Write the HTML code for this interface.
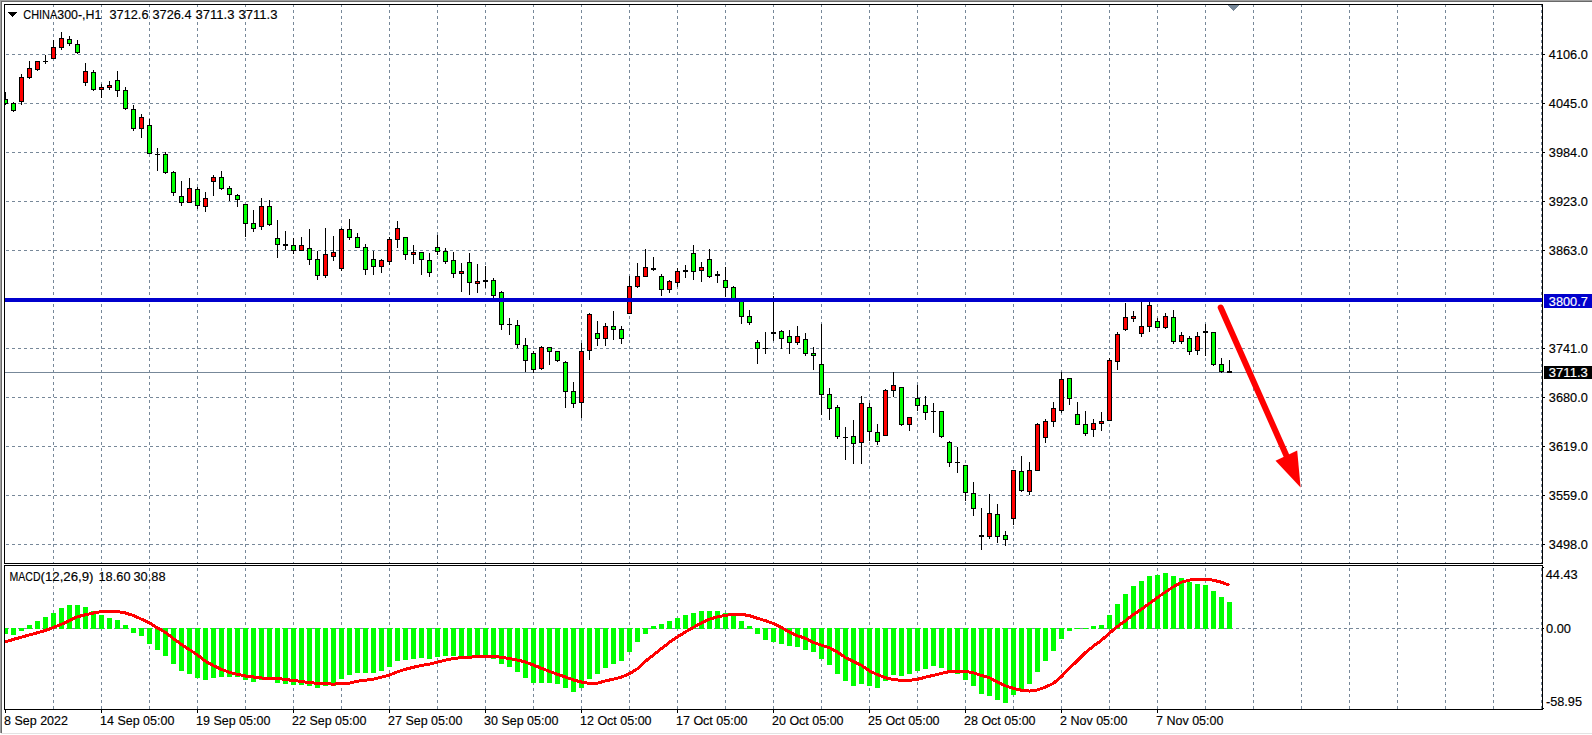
<!DOCTYPE html>
<html lang="en"><head><meta charset="utf-8"><title>CHINA300-,H1</title>
<style>html,body{margin:0;padding:0;background:#fff;overflow:hidden}svg{display:block}text{fill:#000;stroke:#000;stroke-width:0.15px;font-family:"Liberation Sans",Arial,sans-serif;font-size:12.5px}</style>
</head><body>
<svg width="1592" height="735" viewBox="0 0 1592 735">
<rect x="0" y="0" width="1592" height="735" fill="#fff"/>
<g shape-rendering="crispEdges">
<rect x="0" y="0" width="1592" height="1" fill="#a0a0a0"/>
<rect x="0" y="0" width="1" height="733" fill="#a0a0a0"/>
<rect x="1" y="1" width="1591" height="1" fill="#696969"/>
<rect x="1" y="1" width="1" height="732" fill="#696969"/>
<rect x="1" y="733" width="1591" height="1" fill="#e3e3e3"/>
<path d="M53.5 5v2M53.5 10v3M53.5 16v3M53.5 22v3M53.5 28v3M53.5 34v3M53.5 40v3M53.5 46v3M53.5 52v3M53.5 58v3M53.5 64v3M53.5 70v3M53.5 76v3M53.5 82v3M53.5 88v3M53.5 94v3M53.5 100v3M53.5 106v3M53.5 112v3M53.5 118v3M53.5 124v3M53.5 130v3M53.5 136v3M53.5 142v3M53.5 148v3M53.5 154v3M53.5 160v3M53.5 166v3M53.5 172v3M53.5 178v3M53.5 184v3M53.5 190v3M53.5 196v3M53.5 202v3M53.5 208v3M53.5 214v3M53.5 220v3M53.5 226v3M53.5 232v3M53.5 238v3M53.5 244v3M53.5 250v3M53.5 256v3M53.5 262v3M53.5 268v3M53.5 274v3M53.5 280v3M53.5 286v3M53.5 292v3M53.5 298v3M53.5 304v3M53.5 310v3M53.5 316v3M53.5 322v3M53.5 328v3M53.5 334v3M53.5 340v3M53.5 346v3M53.5 352v3M53.5 358v3M53.5 364v3M53.5 370v3M53.5 376v3M53.5 382v3M53.5 388v3M53.5 394v3M53.5 400v3M53.5 406v3M53.5 412v3M53.5 418v3M53.5 424v3M53.5 430v3M53.5 436v3M53.5 442v3M53.5 448v3M53.5 454v3M53.5 460v3M53.5 466v3M53.5 472v3M53.5 478v3M53.5 484v3M53.5 490v3M53.5 496v3M53.5 502v3M53.5 508v3M53.5 514v3M53.5 520v3M53.5 526v3M53.5 532v3M53.5 538v3M53.5 544v3M53.5 550v3M53.5 556v3M53.5 562v1M53.5 568v3M53.5 574v3M53.5 580v3M53.5 586v3M53.5 592v3M53.5 598v3M53.5 604v3M53.5 610v3M53.5 616v3M53.5 622v3M53.5 628v3M53.5 634v3M53.5 640v3M53.5 646v3M53.5 652v3M53.5 658v3M53.5 664v3M53.5 670v3M53.5 676v3M53.5 682v3M53.5 688v3M53.5 694v3M53.5 700v3M53.5 706v3M101.5 5v2M101.5 10v3M101.5 16v3M101.5 22v3M101.5 28v3M101.5 34v3M101.5 40v3M101.5 46v3M101.5 52v3M101.5 58v3M101.5 64v3M101.5 70v3M101.5 76v3M101.5 82v3M101.5 88v3M101.5 94v3M101.5 100v3M101.5 106v3M101.5 112v3M101.5 118v3M101.5 124v3M101.5 130v3M101.5 136v3M101.5 142v3M101.5 148v3M101.5 154v3M101.5 160v3M101.5 166v3M101.5 172v3M101.5 178v3M101.5 184v3M101.5 190v3M101.5 196v3M101.5 202v3M101.5 208v3M101.5 214v3M101.5 220v3M101.5 226v3M101.5 232v3M101.5 238v3M101.5 244v3M101.5 250v3M101.5 256v3M101.5 262v3M101.5 268v3M101.5 274v3M101.5 280v3M101.5 286v3M101.5 292v3M101.5 298v3M101.5 304v3M101.5 310v3M101.5 316v3M101.5 322v3M101.5 328v3M101.5 334v3M101.5 340v3M101.5 346v3M101.5 352v3M101.5 358v3M101.5 364v3M101.5 370v3M101.5 376v3M101.5 382v3M101.5 388v3M101.5 394v3M101.5 400v3M101.5 406v3M101.5 412v3M101.5 418v3M101.5 424v3M101.5 430v3M101.5 436v3M101.5 442v3M101.5 448v3M101.5 454v3M101.5 460v3M101.5 466v3M101.5 472v3M101.5 478v3M101.5 484v3M101.5 490v3M101.5 496v3M101.5 502v3M101.5 508v3M101.5 514v3M101.5 520v3M101.5 526v3M101.5 532v3M101.5 538v3M101.5 544v3M101.5 550v3M101.5 556v3M101.5 562v1M101.5 568v3M101.5 574v3M101.5 580v3M101.5 586v3M101.5 592v3M101.5 598v3M101.5 604v3M101.5 610v3M101.5 616v3M101.5 622v3M101.5 628v3M101.5 634v3M101.5 640v3M101.5 646v3M101.5 652v3M101.5 658v3M101.5 664v3M101.5 670v3M101.5 676v3M101.5 682v3M101.5 688v3M101.5 694v3M101.5 700v3M101.5 706v3M149.5 5v2M149.5 10v3M149.5 16v3M149.5 22v3M149.5 28v3M149.5 34v3M149.5 40v3M149.5 46v3M149.5 52v3M149.5 58v3M149.5 64v3M149.5 70v3M149.5 76v3M149.5 82v3M149.5 88v3M149.5 94v3M149.5 100v3M149.5 106v3M149.5 112v3M149.5 118v3M149.5 124v3M149.5 130v3M149.5 136v3M149.5 142v3M149.5 148v3M149.5 154v3M149.5 160v3M149.5 166v3M149.5 172v3M149.5 178v3M149.5 184v3M149.5 190v3M149.5 196v3M149.5 202v3M149.5 208v3M149.5 214v3M149.5 220v3M149.5 226v3M149.5 232v3M149.5 238v3M149.5 244v3M149.5 250v3M149.5 256v3M149.5 262v3M149.5 268v3M149.5 274v3M149.5 280v3M149.5 286v3M149.5 292v3M149.5 298v3M149.5 304v3M149.5 310v3M149.5 316v3M149.5 322v3M149.5 328v3M149.5 334v3M149.5 340v3M149.5 346v3M149.5 352v3M149.5 358v3M149.5 364v3M149.5 370v3M149.5 376v3M149.5 382v3M149.5 388v3M149.5 394v3M149.5 400v3M149.5 406v3M149.5 412v3M149.5 418v3M149.5 424v3M149.5 430v3M149.5 436v3M149.5 442v3M149.5 448v3M149.5 454v3M149.5 460v3M149.5 466v3M149.5 472v3M149.5 478v3M149.5 484v3M149.5 490v3M149.5 496v3M149.5 502v3M149.5 508v3M149.5 514v3M149.5 520v3M149.5 526v3M149.5 532v3M149.5 538v3M149.5 544v3M149.5 550v3M149.5 556v3M149.5 562v1M149.5 568v3M149.5 574v3M149.5 580v3M149.5 586v3M149.5 592v3M149.5 598v3M149.5 604v3M149.5 610v3M149.5 616v3M149.5 622v3M149.5 628v3M149.5 634v3M149.5 640v3M149.5 646v3M149.5 652v3M149.5 658v3M149.5 664v3M149.5 670v3M149.5 676v3M149.5 682v3M149.5 688v3M149.5 694v3M149.5 700v3M149.5 706v3M197.5 5v2M197.5 10v3M197.5 16v3M197.5 22v3M197.5 28v3M197.5 34v3M197.5 40v3M197.5 46v3M197.5 52v3M197.5 58v3M197.5 64v3M197.5 70v3M197.5 76v3M197.5 82v3M197.5 88v3M197.5 94v3M197.5 100v3M197.5 106v3M197.5 112v3M197.5 118v3M197.5 124v3M197.5 130v3M197.5 136v3M197.5 142v3M197.5 148v3M197.5 154v3M197.5 160v3M197.5 166v3M197.5 172v3M197.5 178v3M197.5 184v3M197.5 190v3M197.5 196v3M197.5 202v3M197.5 208v3M197.5 214v3M197.5 220v3M197.5 226v3M197.5 232v3M197.5 238v3M197.5 244v3M197.5 250v3M197.5 256v3M197.5 262v3M197.5 268v3M197.5 274v3M197.5 280v3M197.5 286v3M197.5 292v3M197.5 298v3M197.5 304v3M197.5 310v3M197.5 316v3M197.5 322v3M197.5 328v3M197.5 334v3M197.5 340v3M197.5 346v3M197.5 352v3M197.5 358v3M197.5 364v3M197.5 370v3M197.5 376v3M197.5 382v3M197.5 388v3M197.5 394v3M197.5 400v3M197.5 406v3M197.5 412v3M197.5 418v3M197.5 424v3M197.5 430v3M197.5 436v3M197.5 442v3M197.5 448v3M197.5 454v3M197.5 460v3M197.5 466v3M197.5 472v3M197.5 478v3M197.5 484v3M197.5 490v3M197.5 496v3M197.5 502v3M197.5 508v3M197.5 514v3M197.5 520v3M197.5 526v3M197.5 532v3M197.5 538v3M197.5 544v3M197.5 550v3M197.5 556v3M197.5 562v1M197.5 568v3M197.5 574v3M197.5 580v3M197.5 586v3M197.5 592v3M197.5 598v3M197.5 604v3M197.5 610v3M197.5 616v3M197.5 622v3M197.5 628v3M197.5 634v3M197.5 640v3M197.5 646v3M197.5 652v3M197.5 658v3M197.5 664v3M197.5 670v3M197.5 676v3M197.5 682v3M197.5 688v3M197.5 694v3M197.5 700v3M197.5 706v3M245.5 5v2M245.5 10v3M245.5 16v3M245.5 22v3M245.5 28v3M245.5 34v3M245.5 40v3M245.5 46v3M245.5 52v3M245.5 58v3M245.5 64v3M245.5 70v3M245.5 76v3M245.5 82v3M245.5 88v3M245.5 94v3M245.5 100v3M245.5 106v3M245.5 112v3M245.5 118v3M245.5 124v3M245.5 130v3M245.5 136v3M245.5 142v3M245.5 148v3M245.5 154v3M245.5 160v3M245.5 166v3M245.5 172v3M245.5 178v3M245.5 184v3M245.5 190v3M245.5 196v3M245.5 202v3M245.5 208v3M245.5 214v3M245.5 220v3M245.5 226v3M245.5 232v3M245.5 238v3M245.5 244v3M245.5 250v3M245.5 256v3M245.5 262v3M245.5 268v3M245.5 274v3M245.5 280v3M245.5 286v3M245.5 292v3M245.5 298v3M245.5 304v3M245.5 310v3M245.5 316v3M245.5 322v3M245.5 328v3M245.5 334v3M245.5 340v3M245.5 346v3M245.5 352v3M245.5 358v3M245.5 364v3M245.5 370v3M245.5 376v3M245.5 382v3M245.5 388v3M245.5 394v3M245.5 400v3M245.5 406v3M245.5 412v3M245.5 418v3M245.5 424v3M245.5 430v3M245.5 436v3M245.5 442v3M245.5 448v3M245.5 454v3M245.5 460v3M245.5 466v3M245.5 472v3M245.5 478v3M245.5 484v3M245.5 490v3M245.5 496v3M245.5 502v3M245.5 508v3M245.5 514v3M245.5 520v3M245.5 526v3M245.5 532v3M245.5 538v3M245.5 544v3M245.5 550v3M245.5 556v3M245.5 562v1M245.5 568v3M245.5 574v3M245.5 580v3M245.5 586v3M245.5 592v3M245.5 598v3M245.5 604v3M245.5 610v3M245.5 616v3M245.5 622v3M245.5 628v3M245.5 634v3M245.5 640v3M245.5 646v3M245.5 652v3M245.5 658v3M245.5 664v3M245.5 670v3M245.5 676v3M245.5 682v3M245.5 688v3M245.5 694v3M245.5 700v3M245.5 706v3M293.5 5v2M293.5 10v3M293.5 16v3M293.5 22v3M293.5 28v3M293.5 34v3M293.5 40v3M293.5 46v3M293.5 52v3M293.5 58v3M293.5 64v3M293.5 70v3M293.5 76v3M293.5 82v3M293.5 88v3M293.5 94v3M293.5 100v3M293.5 106v3M293.5 112v3M293.5 118v3M293.5 124v3M293.5 130v3M293.5 136v3M293.5 142v3M293.5 148v3M293.5 154v3M293.5 160v3M293.5 166v3M293.5 172v3M293.5 178v3M293.5 184v3M293.5 190v3M293.5 196v3M293.5 202v3M293.5 208v3M293.5 214v3M293.5 220v3M293.5 226v3M293.5 232v3M293.5 238v3M293.5 244v3M293.5 250v3M293.5 256v3M293.5 262v3M293.5 268v3M293.5 274v3M293.5 280v3M293.5 286v3M293.5 292v3M293.5 298v3M293.5 304v3M293.5 310v3M293.5 316v3M293.5 322v3M293.5 328v3M293.5 334v3M293.5 340v3M293.5 346v3M293.5 352v3M293.5 358v3M293.5 364v3M293.5 370v3M293.5 376v3M293.5 382v3M293.5 388v3M293.5 394v3M293.5 400v3M293.5 406v3M293.5 412v3M293.5 418v3M293.5 424v3M293.5 430v3M293.5 436v3M293.5 442v3M293.5 448v3M293.5 454v3M293.5 460v3M293.5 466v3M293.5 472v3M293.5 478v3M293.5 484v3M293.5 490v3M293.5 496v3M293.5 502v3M293.5 508v3M293.5 514v3M293.5 520v3M293.5 526v3M293.5 532v3M293.5 538v3M293.5 544v3M293.5 550v3M293.5 556v3M293.5 562v1M293.5 568v3M293.5 574v3M293.5 580v3M293.5 586v3M293.5 592v3M293.5 598v3M293.5 604v3M293.5 610v3M293.5 616v3M293.5 622v3M293.5 628v3M293.5 634v3M293.5 640v3M293.5 646v3M293.5 652v3M293.5 658v3M293.5 664v3M293.5 670v3M293.5 676v3M293.5 682v3M293.5 688v3M293.5 694v3M293.5 700v3M293.5 706v3M341.5 5v2M341.5 10v3M341.5 16v3M341.5 22v3M341.5 28v3M341.5 34v3M341.5 40v3M341.5 46v3M341.5 52v3M341.5 58v3M341.5 64v3M341.5 70v3M341.5 76v3M341.5 82v3M341.5 88v3M341.5 94v3M341.5 100v3M341.5 106v3M341.5 112v3M341.5 118v3M341.5 124v3M341.5 130v3M341.5 136v3M341.5 142v3M341.5 148v3M341.5 154v3M341.5 160v3M341.5 166v3M341.5 172v3M341.5 178v3M341.5 184v3M341.5 190v3M341.5 196v3M341.5 202v3M341.5 208v3M341.5 214v3M341.5 220v3M341.5 226v3M341.5 232v3M341.5 238v3M341.5 244v3M341.5 250v3M341.5 256v3M341.5 262v3M341.5 268v3M341.5 274v3M341.5 280v3M341.5 286v3M341.5 292v3M341.5 298v3M341.5 304v3M341.5 310v3M341.5 316v3M341.5 322v3M341.5 328v3M341.5 334v3M341.5 340v3M341.5 346v3M341.5 352v3M341.5 358v3M341.5 364v3M341.5 370v3M341.5 376v3M341.5 382v3M341.5 388v3M341.5 394v3M341.5 400v3M341.5 406v3M341.5 412v3M341.5 418v3M341.5 424v3M341.5 430v3M341.5 436v3M341.5 442v3M341.5 448v3M341.5 454v3M341.5 460v3M341.5 466v3M341.5 472v3M341.5 478v3M341.5 484v3M341.5 490v3M341.5 496v3M341.5 502v3M341.5 508v3M341.5 514v3M341.5 520v3M341.5 526v3M341.5 532v3M341.5 538v3M341.5 544v3M341.5 550v3M341.5 556v3M341.5 562v1M341.5 568v3M341.5 574v3M341.5 580v3M341.5 586v3M341.5 592v3M341.5 598v3M341.5 604v3M341.5 610v3M341.5 616v3M341.5 622v3M341.5 628v3M341.5 634v3M341.5 640v3M341.5 646v3M341.5 652v3M341.5 658v3M341.5 664v3M341.5 670v3M341.5 676v3M341.5 682v3M341.5 688v3M341.5 694v3M341.5 700v3M341.5 706v3M389.5 5v2M389.5 10v3M389.5 16v3M389.5 22v3M389.5 28v3M389.5 34v3M389.5 40v3M389.5 46v3M389.5 52v3M389.5 58v3M389.5 64v3M389.5 70v3M389.5 76v3M389.5 82v3M389.5 88v3M389.5 94v3M389.5 100v3M389.5 106v3M389.5 112v3M389.5 118v3M389.5 124v3M389.5 130v3M389.5 136v3M389.5 142v3M389.5 148v3M389.5 154v3M389.5 160v3M389.5 166v3M389.5 172v3M389.5 178v3M389.5 184v3M389.5 190v3M389.5 196v3M389.5 202v3M389.5 208v3M389.5 214v3M389.5 220v3M389.5 226v3M389.5 232v3M389.5 238v3M389.5 244v3M389.5 250v3M389.5 256v3M389.5 262v3M389.5 268v3M389.5 274v3M389.5 280v3M389.5 286v3M389.5 292v3M389.5 298v3M389.5 304v3M389.5 310v3M389.5 316v3M389.5 322v3M389.5 328v3M389.5 334v3M389.5 340v3M389.5 346v3M389.5 352v3M389.5 358v3M389.5 364v3M389.5 370v3M389.5 376v3M389.5 382v3M389.5 388v3M389.5 394v3M389.5 400v3M389.5 406v3M389.5 412v3M389.5 418v3M389.5 424v3M389.5 430v3M389.5 436v3M389.5 442v3M389.5 448v3M389.5 454v3M389.5 460v3M389.5 466v3M389.5 472v3M389.5 478v3M389.5 484v3M389.5 490v3M389.5 496v3M389.5 502v3M389.5 508v3M389.5 514v3M389.5 520v3M389.5 526v3M389.5 532v3M389.5 538v3M389.5 544v3M389.5 550v3M389.5 556v3M389.5 562v1M389.5 568v3M389.5 574v3M389.5 580v3M389.5 586v3M389.5 592v3M389.5 598v3M389.5 604v3M389.5 610v3M389.5 616v3M389.5 622v3M389.5 628v3M389.5 634v3M389.5 640v3M389.5 646v3M389.5 652v3M389.5 658v3M389.5 664v3M389.5 670v3M389.5 676v3M389.5 682v3M389.5 688v3M389.5 694v3M389.5 700v3M389.5 706v3M437.5 5v2M437.5 10v3M437.5 16v3M437.5 22v3M437.5 28v3M437.5 34v3M437.5 40v3M437.5 46v3M437.5 52v3M437.5 58v3M437.5 64v3M437.5 70v3M437.5 76v3M437.5 82v3M437.5 88v3M437.5 94v3M437.5 100v3M437.5 106v3M437.5 112v3M437.5 118v3M437.5 124v3M437.5 130v3M437.5 136v3M437.5 142v3M437.5 148v3M437.5 154v3M437.5 160v3M437.5 166v3M437.5 172v3M437.5 178v3M437.5 184v3M437.5 190v3M437.5 196v3M437.5 202v3M437.5 208v3M437.5 214v3M437.5 220v3M437.5 226v3M437.5 232v3M437.5 238v3M437.5 244v3M437.5 250v3M437.5 256v3M437.5 262v3M437.5 268v3M437.5 274v3M437.5 280v3M437.5 286v3M437.5 292v3M437.5 298v3M437.5 304v3M437.5 310v3M437.5 316v3M437.5 322v3M437.5 328v3M437.5 334v3M437.5 340v3M437.5 346v3M437.5 352v3M437.5 358v3M437.5 364v3M437.5 370v3M437.5 376v3M437.5 382v3M437.5 388v3M437.5 394v3M437.5 400v3M437.5 406v3M437.5 412v3M437.5 418v3M437.5 424v3M437.5 430v3M437.5 436v3M437.5 442v3M437.5 448v3M437.5 454v3M437.5 460v3M437.5 466v3M437.5 472v3M437.5 478v3M437.5 484v3M437.5 490v3M437.5 496v3M437.5 502v3M437.5 508v3M437.5 514v3M437.5 520v3M437.5 526v3M437.5 532v3M437.5 538v3M437.5 544v3M437.5 550v3M437.5 556v3M437.5 562v1M437.5 568v3M437.5 574v3M437.5 580v3M437.5 586v3M437.5 592v3M437.5 598v3M437.5 604v3M437.5 610v3M437.5 616v3M437.5 622v3M437.5 628v3M437.5 634v3M437.5 640v3M437.5 646v3M437.5 652v3M437.5 658v3M437.5 664v3M437.5 670v3M437.5 676v3M437.5 682v3M437.5 688v3M437.5 694v3M437.5 700v3M437.5 706v3M485.5 5v2M485.5 10v3M485.5 16v3M485.5 22v3M485.5 28v3M485.5 34v3M485.5 40v3M485.5 46v3M485.5 52v3M485.5 58v3M485.5 64v3M485.5 70v3M485.5 76v3M485.5 82v3M485.5 88v3M485.5 94v3M485.5 100v3M485.5 106v3M485.5 112v3M485.5 118v3M485.5 124v3M485.5 130v3M485.5 136v3M485.5 142v3M485.5 148v3M485.5 154v3M485.5 160v3M485.5 166v3M485.5 172v3M485.5 178v3M485.5 184v3M485.5 190v3M485.5 196v3M485.5 202v3M485.5 208v3M485.5 214v3M485.5 220v3M485.5 226v3M485.5 232v3M485.5 238v3M485.5 244v3M485.5 250v3M485.5 256v3M485.5 262v3M485.5 268v3M485.5 274v3M485.5 280v3M485.5 286v3M485.5 292v3M485.5 298v3M485.5 304v3M485.5 310v3M485.5 316v3M485.5 322v3M485.5 328v3M485.5 334v3M485.5 340v3M485.5 346v3M485.5 352v3M485.5 358v3M485.5 364v3M485.5 370v3M485.5 376v3M485.5 382v3M485.5 388v3M485.5 394v3M485.5 400v3M485.5 406v3M485.5 412v3M485.5 418v3M485.5 424v3M485.5 430v3M485.5 436v3M485.5 442v3M485.5 448v3M485.5 454v3M485.5 460v3M485.5 466v3M485.5 472v3M485.5 478v3M485.5 484v3M485.5 490v3M485.5 496v3M485.5 502v3M485.5 508v3M485.5 514v3M485.5 520v3M485.5 526v3M485.5 532v3M485.5 538v3M485.5 544v3M485.5 550v3M485.5 556v3M485.5 562v1M485.5 568v3M485.5 574v3M485.5 580v3M485.5 586v3M485.5 592v3M485.5 598v3M485.5 604v3M485.5 610v3M485.5 616v3M485.5 622v3M485.5 628v3M485.5 634v3M485.5 640v3M485.5 646v3M485.5 652v3M485.5 658v3M485.5 664v3M485.5 670v3M485.5 676v3M485.5 682v3M485.5 688v3M485.5 694v3M485.5 700v3M485.5 706v3M533.5 5v2M533.5 10v3M533.5 16v3M533.5 22v3M533.5 28v3M533.5 34v3M533.5 40v3M533.5 46v3M533.5 52v3M533.5 58v3M533.5 64v3M533.5 70v3M533.5 76v3M533.5 82v3M533.5 88v3M533.5 94v3M533.5 100v3M533.5 106v3M533.5 112v3M533.5 118v3M533.5 124v3M533.5 130v3M533.5 136v3M533.5 142v3M533.5 148v3M533.5 154v3M533.5 160v3M533.5 166v3M533.5 172v3M533.5 178v3M533.5 184v3M533.5 190v3M533.5 196v3M533.5 202v3M533.5 208v3M533.5 214v3M533.5 220v3M533.5 226v3M533.5 232v3M533.5 238v3M533.5 244v3M533.5 250v3M533.5 256v3M533.5 262v3M533.5 268v3M533.5 274v3M533.5 280v3M533.5 286v3M533.5 292v3M533.5 298v3M533.5 304v3M533.5 310v3M533.5 316v3M533.5 322v3M533.5 328v3M533.5 334v3M533.5 340v3M533.5 346v3M533.5 352v3M533.5 358v3M533.5 364v3M533.5 370v3M533.5 376v3M533.5 382v3M533.5 388v3M533.5 394v3M533.5 400v3M533.5 406v3M533.5 412v3M533.5 418v3M533.5 424v3M533.5 430v3M533.5 436v3M533.5 442v3M533.5 448v3M533.5 454v3M533.5 460v3M533.5 466v3M533.5 472v3M533.5 478v3M533.5 484v3M533.5 490v3M533.5 496v3M533.5 502v3M533.5 508v3M533.5 514v3M533.5 520v3M533.5 526v3M533.5 532v3M533.5 538v3M533.5 544v3M533.5 550v3M533.5 556v3M533.5 562v1M533.5 568v3M533.5 574v3M533.5 580v3M533.5 586v3M533.5 592v3M533.5 598v3M533.5 604v3M533.5 610v3M533.5 616v3M533.5 622v3M533.5 628v3M533.5 634v3M533.5 640v3M533.5 646v3M533.5 652v3M533.5 658v3M533.5 664v3M533.5 670v3M533.5 676v3M533.5 682v3M533.5 688v3M533.5 694v3M533.5 700v3M533.5 706v3M581.5 5v2M581.5 10v3M581.5 16v3M581.5 22v3M581.5 28v3M581.5 34v3M581.5 40v3M581.5 46v3M581.5 52v3M581.5 58v3M581.5 64v3M581.5 70v3M581.5 76v3M581.5 82v3M581.5 88v3M581.5 94v3M581.5 100v3M581.5 106v3M581.5 112v3M581.5 118v3M581.5 124v3M581.5 130v3M581.5 136v3M581.5 142v3M581.5 148v3M581.5 154v3M581.5 160v3M581.5 166v3M581.5 172v3M581.5 178v3M581.5 184v3M581.5 190v3M581.5 196v3M581.5 202v3M581.5 208v3M581.5 214v3M581.5 220v3M581.5 226v3M581.5 232v3M581.5 238v3M581.5 244v3M581.5 250v3M581.5 256v3M581.5 262v3M581.5 268v3M581.5 274v3M581.5 280v3M581.5 286v3M581.5 292v3M581.5 298v3M581.5 304v3M581.5 310v3M581.5 316v3M581.5 322v3M581.5 328v3M581.5 334v3M581.5 340v3M581.5 346v3M581.5 352v3M581.5 358v3M581.5 364v3M581.5 370v3M581.5 376v3M581.5 382v3M581.5 388v3M581.5 394v3M581.5 400v3M581.5 406v3M581.5 412v3M581.5 418v3M581.5 424v3M581.5 430v3M581.5 436v3M581.5 442v3M581.5 448v3M581.5 454v3M581.5 460v3M581.5 466v3M581.5 472v3M581.5 478v3M581.5 484v3M581.5 490v3M581.5 496v3M581.5 502v3M581.5 508v3M581.5 514v3M581.5 520v3M581.5 526v3M581.5 532v3M581.5 538v3M581.5 544v3M581.5 550v3M581.5 556v3M581.5 562v1M581.5 568v3M581.5 574v3M581.5 580v3M581.5 586v3M581.5 592v3M581.5 598v3M581.5 604v3M581.5 610v3M581.5 616v3M581.5 622v3M581.5 628v3M581.5 634v3M581.5 640v3M581.5 646v3M581.5 652v3M581.5 658v3M581.5 664v3M581.5 670v3M581.5 676v3M581.5 682v3M581.5 688v3M581.5 694v3M581.5 700v3M581.5 706v3M629.5 5v2M629.5 10v3M629.5 16v3M629.5 22v3M629.5 28v3M629.5 34v3M629.5 40v3M629.5 46v3M629.5 52v3M629.5 58v3M629.5 64v3M629.5 70v3M629.5 76v3M629.5 82v3M629.5 88v3M629.5 94v3M629.5 100v3M629.5 106v3M629.5 112v3M629.5 118v3M629.5 124v3M629.5 130v3M629.5 136v3M629.5 142v3M629.5 148v3M629.5 154v3M629.5 160v3M629.5 166v3M629.5 172v3M629.5 178v3M629.5 184v3M629.5 190v3M629.5 196v3M629.5 202v3M629.5 208v3M629.5 214v3M629.5 220v3M629.5 226v3M629.5 232v3M629.5 238v3M629.5 244v3M629.5 250v3M629.5 256v3M629.5 262v3M629.5 268v3M629.5 274v3M629.5 280v3M629.5 286v3M629.5 292v3M629.5 298v3M629.5 304v3M629.5 310v3M629.5 316v3M629.5 322v3M629.5 328v3M629.5 334v3M629.5 340v3M629.5 346v3M629.5 352v3M629.5 358v3M629.5 364v3M629.5 370v3M629.5 376v3M629.5 382v3M629.5 388v3M629.5 394v3M629.5 400v3M629.5 406v3M629.5 412v3M629.5 418v3M629.5 424v3M629.5 430v3M629.5 436v3M629.5 442v3M629.5 448v3M629.5 454v3M629.5 460v3M629.5 466v3M629.5 472v3M629.5 478v3M629.5 484v3M629.5 490v3M629.5 496v3M629.5 502v3M629.5 508v3M629.5 514v3M629.5 520v3M629.5 526v3M629.5 532v3M629.5 538v3M629.5 544v3M629.5 550v3M629.5 556v3M629.5 562v1M629.5 568v3M629.5 574v3M629.5 580v3M629.5 586v3M629.5 592v3M629.5 598v3M629.5 604v3M629.5 610v3M629.5 616v3M629.5 622v3M629.5 628v3M629.5 634v3M629.5 640v3M629.5 646v3M629.5 652v3M629.5 658v3M629.5 664v3M629.5 670v3M629.5 676v3M629.5 682v3M629.5 688v3M629.5 694v3M629.5 700v3M629.5 706v3M677.5 5v2M677.5 10v3M677.5 16v3M677.5 22v3M677.5 28v3M677.5 34v3M677.5 40v3M677.5 46v3M677.5 52v3M677.5 58v3M677.5 64v3M677.5 70v3M677.5 76v3M677.5 82v3M677.5 88v3M677.5 94v3M677.5 100v3M677.5 106v3M677.5 112v3M677.5 118v3M677.5 124v3M677.5 130v3M677.5 136v3M677.5 142v3M677.5 148v3M677.5 154v3M677.5 160v3M677.5 166v3M677.5 172v3M677.5 178v3M677.5 184v3M677.5 190v3M677.5 196v3M677.5 202v3M677.5 208v3M677.5 214v3M677.5 220v3M677.5 226v3M677.5 232v3M677.5 238v3M677.5 244v3M677.5 250v3M677.5 256v3M677.5 262v3M677.5 268v3M677.5 274v3M677.5 280v3M677.5 286v3M677.5 292v3M677.5 298v3M677.5 304v3M677.5 310v3M677.5 316v3M677.5 322v3M677.5 328v3M677.5 334v3M677.5 340v3M677.5 346v3M677.5 352v3M677.5 358v3M677.5 364v3M677.5 370v3M677.5 376v3M677.5 382v3M677.5 388v3M677.5 394v3M677.5 400v3M677.5 406v3M677.5 412v3M677.5 418v3M677.5 424v3M677.5 430v3M677.5 436v3M677.5 442v3M677.5 448v3M677.5 454v3M677.5 460v3M677.5 466v3M677.5 472v3M677.5 478v3M677.5 484v3M677.5 490v3M677.5 496v3M677.5 502v3M677.5 508v3M677.5 514v3M677.5 520v3M677.5 526v3M677.5 532v3M677.5 538v3M677.5 544v3M677.5 550v3M677.5 556v3M677.5 562v1M677.5 568v3M677.5 574v3M677.5 580v3M677.5 586v3M677.5 592v3M677.5 598v3M677.5 604v3M677.5 610v3M677.5 616v3M677.5 622v3M677.5 628v3M677.5 634v3M677.5 640v3M677.5 646v3M677.5 652v3M677.5 658v3M677.5 664v3M677.5 670v3M677.5 676v3M677.5 682v3M677.5 688v3M677.5 694v3M677.5 700v3M677.5 706v3M725.5 5v2M725.5 10v3M725.5 16v3M725.5 22v3M725.5 28v3M725.5 34v3M725.5 40v3M725.5 46v3M725.5 52v3M725.5 58v3M725.5 64v3M725.5 70v3M725.5 76v3M725.5 82v3M725.5 88v3M725.5 94v3M725.5 100v3M725.5 106v3M725.5 112v3M725.5 118v3M725.5 124v3M725.5 130v3M725.5 136v3M725.5 142v3M725.5 148v3M725.5 154v3M725.5 160v3M725.5 166v3M725.5 172v3M725.5 178v3M725.5 184v3M725.5 190v3M725.5 196v3M725.5 202v3M725.5 208v3M725.5 214v3M725.5 220v3M725.5 226v3M725.5 232v3M725.5 238v3M725.5 244v3M725.5 250v3M725.5 256v3M725.5 262v3M725.5 268v3M725.5 274v3M725.5 280v3M725.5 286v3M725.5 292v3M725.5 298v3M725.5 304v3M725.5 310v3M725.5 316v3M725.5 322v3M725.5 328v3M725.5 334v3M725.5 340v3M725.5 346v3M725.5 352v3M725.5 358v3M725.5 364v3M725.5 370v3M725.5 376v3M725.5 382v3M725.5 388v3M725.5 394v3M725.5 400v3M725.5 406v3M725.5 412v3M725.5 418v3M725.5 424v3M725.5 430v3M725.5 436v3M725.5 442v3M725.5 448v3M725.5 454v3M725.5 460v3M725.5 466v3M725.5 472v3M725.5 478v3M725.5 484v3M725.5 490v3M725.5 496v3M725.5 502v3M725.5 508v3M725.5 514v3M725.5 520v3M725.5 526v3M725.5 532v3M725.5 538v3M725.5 544v3M725.5 550v3M725.5 556v3M725.5 562v1M725.5 568v3M725.5 574v3M725.5 580v3M725.5 586v3M725.5 592v3M725.5 598v3M725.5 604v3M725.5 610v3M725.5 616v3M725.5 622v3M725.5 628v3M725.5 634v3M725.5 640v3M725.5 646v3M725.5 652v3M725.5 658v3M725.5 664v3M725.5 670v3M725.5 676v3M725.5 682v3M725.5 688v3M725.5 694v3M725.5 700v3M725.5 706v3M773.5 5v2M773.5 10v3M773.5 16v3M773.5 22v3M773.5 28v3M773.5 34v3M773.5 40v3M773.5 46v3M773.5 52v3M773.5 58v3M773.5 64v3M773.5 70v3M773.5 76v3M773.5 82v3M773.5 88v3M773.5 94v3M773.5 100v3M773.5 106v3M773.5 112v3M773.5 118v3M773.5 124v3M773.5 130v3M773.5 136v3M773.5 142v3M773.5 148v3M773.5 154v3M773.5 160v3M773.5 166v3M773.5 172v3M773.5 178v3M773.5 184v3M773.5 190v3M773.5 196v3M773.5 202v3M773.5 208v3M773.5 214v3M773.5 220v3M773.5 226v3M773.5 232v3M773.5 238v3M773.5 244v3M773.5 250v3M773.5 256v3M773.5 262v3M773.5 268v3M773.5 274v3M773.5 280v3M773.5 286v3M773.5 292v3M773.5 298v3M773.5 304v3M773.5 310v3M773.5 316v3M773.5 322v3M773.5 328v3M773.5 334v3M773.5 340v3M773.5 346v3M773.5 352v3M773.5 358v3M773.5 364v3M773.5 370v3M773.5 376v3M773.5 382v3M773.5 388v3M773.5 394v3M773.5 400v3M773.5 406v3M773.5 412v3M773.5 418v3M773.5 424v3M773.5 430v3M773.5 436v3M773.5 442v3M773.5 448v3M773.5 454v3M773.5 460v3M773.5 466v3M773.5 472v3M773.5 478v3M773.5 484v3M773.5 490v3M773.5 496v3M773.5 502v3M773.5 508v3M773.5 514v3M773.5 520v3M773.5 526v3M773.5 532v3M773.5 538v3M773.5 544v3M773.5 550v3M773.5 556v3M773.5 562v1M773.5 568v3M773.5 574v3M773.5 580v3M773.5 586v3M773.5 592v3M773.5 598v3M773.5 604v3M773.5 610v3M773.5 616v3M773.5 622v3M773.5 628v3M773.5 634v3M773.5 640v3M773.5 646v3M773.5 652v3M773.5 658v3M773.5 664v3M773.5 670v3M773.5 676v3M773.5 682v3M773.5 688v3M773.5 694v3M773.5 700v3M773.5 706v3M821.5 5v2M821.5 10v3M821.5 16v3M821.5 22v3M821.5 28v3M821.5 34v3M821.5 40v3M821.5 46v3M821.5 52v3M821.5 58v3M821.5 64v3M821.5 70v3M821.5 76v3M821.5 82v3M821.5 88v3M821.5 94v3M821.5 100v3M821.5 106v3M821.5 112v3M821.5 118v3M821.5 124v3M821.5 130v3M821.5 136v3M821.5 142v3M821.5 148v3M821.5 154v3M821.5 160v3M821.5 166v3M821.5 172v3M821.5 178v3M821.5 184v3M821.5 190v3M821.5 196v3M821.5 202v3M821.5 208v3M821.5 214v3M821.5 220v3M821.5 226v3M821.5 232v3M821.5 238v3M821.5 244v3M821.5 250v3M821.5 256v3M821.5 262v3M821.5 268v3M821.5 274v3M821.5 280v3M821.5 286v3M821.5 292v3M821.5 298v3M821.5 304v3M821.5 310v3M821.5 316v3M821.5 322v3M821.5 328v3M821.5 334v3M821.5 340v3M821.5 346v3M821.5 352v3M821.5 358v3M821.5 364v3M821.5 370v3M821.5 376v3M821.5 382v3M821.5 388v3M821.5 394v3M821.5 400v3M821.5 406v3M821.5 412v3M821.5 418v3M821.5 424v3M821.5 430v3M821.5 436v3M821.5 442v3M821.5 448v3M821.5 454v3M821.5 460v3M821.5 466v3M821.5 472v3M821.5 478v3M821.5 484v3M821.5 490v3M821.5 496v3M821.5 502v3M821.5 508v3M821.5 514v3M821.5 520v3M821.5 526v3M821.5 532v3M821.5 538v3M821.5 544v3M821.5 550v3M821.5 556v3M821.5 562v1M821.5 568v3M821.5 574v3M821.5 580v3M821.5 586v3M821.5 592v3M821.5 598v3M821.5 604v3M821.5 610v3M821.5 616v3M821.5 622v3M821.5 628v3M821.5 634v3M821.5 640v3M821.5 646v3M821.5 652v3M821.5 658v3M821.5 664v3M821.5 670v3M821.5 676v3M821.5 682v3M821.5 688v3M821.5 694v3M821.5 700v3M821.5 706v3M869.5 5v2M869.5 10v3M869.5 16v3M869.5 22v3M869.5 28v3M869.5 34v3M869.5 40v3M869.5 46v3M869.5 52v3M869.5 58v3M869.5 64v3M869.5 70v3M869.5 76v3M869.5 82v3M869.5 88v3M869.5 94v3M869.5 100v3M869.5 106v3M869.5 112v3M869.5 118v3M869.5 124v3M869.5 130v3M869.5 136v3M869.5 142v3M869.5 148v3M869.5 154v3M869.5 160v3M869.5 166v3M869.5 172v3M869.5 178v3M869.5 184v3M869.5 190v3M869.5 196v3M869.5 202v3M869.5 208v3M869.5 214v3M869.5 220v3M869.5 226v3M869.5 232v3M869.5 238v3M869.5 244v3M869.5 250v3M869.5 256v3M869.5 262v3M869.5 268v3M869.5 274v3M869.5 280v3M869.5 286v3M869.5 292v3M869.5 298v3M869.5 304v3M869.5 310v3M869.5 316v3M869.5 322v3M869.5 328v3M869.5 334v3M869.5 340v3M869.5 346v3M869.5 352v3M869.5 358v3M869.5 364v3M869.5 370v3M869.5 376v3M869.5 382v3M869.5 388v3M869.5 394v3M869.5 400v3M869.5 406v3M869.5 412v3M869.5 418v3M869.5 424v3M869.5 430v3M869.5 436v3M869.5 442v3M869.5 448v3M869.5 454v3M869.5 460v3M869.5 466v3M869.5 472v3M869.5 478v3M869.5 484v3M869.5 490v3M869.5 496v3M869.5 502v3M869.5 508v3M869.5 514v3M869.5 520v3M869.5 526v3M869.5 532v3M869.5 538v3M869.5 544v3M869.5 550v3M869.5 556v3M869.5 562v1M869.5 568v3M869.5 574v3M869.5 580v3M869.5 586v3M869.5 592v3M869.5 598v3M869.5 604v3M869.5 610v3M869.5 616v3M869.5 622v3M869.5 628v3M869.5 634v3M869.5 640v3M869.5 646v3M869.5 652v3M869.5 658v3M869.5 664v3M869.5 670v3M869.5 676v3M869.5 682v3M869.5 688v3M869.5 694v3M869.5 700v3M869.5 706v3M917.5 5v2M917.5 10v3M917.5 16v3M917.5 22v3M917.5 28v3M917.5 34v3M917.5 40v3M917.5 46v3M917.5 52v3M917.5 58v3M917.5 64v3M917.5 70v3M917.5 76v3M917.5 82v3M917.5 88v3M917.5 94v3M917.5 100v3M917.5 106v3M917.5 112v3M917.5 118v3M917.5 124v3M917.5 130v3M917.5 136v3M917.5 142v3M917.5 148v3M917.5 154v3M917.5 160v3M917.5 166v3M917.5 172v3M917.5 178v3M917.5 184v3M917.5 190v3M917.5 196v3M917.5 202v3M917.5 208v3M917.5 214v3M917.5 220v3M917.5 226v3M917.5 232v3M917.5 238v3M917.5 244v3M917.5 250v3M917.5 256v3M917.5 262v3M917.5 268v3M917.5 274v3M917.5 280v3M917.5 286v3M917.5 292v3M917.5 298v3M917.5 304v3M917.5 310v3M917.5 316v3M917.5 322v3M917.5 328v3M917.5 334v3M917.5 340v3M917.5 346v3M917.5 352v3M917.5 358v3M917.5 364v3M917.5 370v3M917.5 376v3M917.5 382v3M917.5 388v3M917.5 394v3M917.5 400v3M917.5 406v3M917.5 412v3M917.5 418v3M917.5 424v3M917.5 430v3M917.5 436v3M917.5 442v3M917.5 448v3M917.5 454v3M917.5 460v3M917.5 466v3M917.5 472v3M917.5 478v3M917.5 484v3M917.5 490v3M917.5 496v3M917.5 502v3M917.5 508v3M917.5 514v3M917.5 520v3M917.5 526v3M917.5 532v3M917.5 538v3M917.5 544v3M917.5 550v3M917.5 556v3M917.5 562v1M917.5 568v3M917.5 574v3M917.5 580v3M917.5 586v3M917.5 592v3M917.5 598v3M917.5 604v3M917.5 610v3M917.5 616v3M917.5 622v3M917.5 628v3M917.5 634v3M917.5 640v3M917.5 646v3M917.5 652v3M917.5 658v3M917.5 664v3M917.5 670v3M917.5 676v3M917.5 682v3M917.5 688v3M917.5 694v3M917.5 700v3M917.5 706v3M965.5 5v2M965.5 10v3M965.5 16v3M965.5 22v3M965.5 28v3M965.5 34v3M965.5 40v3M965.5 46v3M965.5 52v3M965.5 58v3M965.5 64v3M965.5 70v3M965.5 76v3M965.5 82v3M965.5 88v3M965.5 94v3M965.5 100v3M965.5 106v3M965.5 112v3M965.5 118v3M965.5 124v3M965.5 130v3M965.5 136v3M965.5 142v3M965.5 148v3M965.5 154v3M965.5 160v3M965.5 166v3M965.5 172v3M965.5 178v3M965.5 184v3M965.5 190v3M965.5 196v3M965.5 202v3M965.5 208v3M965.5 214v3M965.5 220v3M965.5 226v3M965.5 232v3M965.5 238v3M965.5 244v3M965.5 250v3M965.5 256v3M965.5 262v3M965.5 268v3M965.5 274v3M965.5 280v3M965.5 286v3M965.5 292v3M965.5 298v3M965.5 304v3M965.5 310v3M965.5 316v3M965.5 322v3M965.5 328v3M965.5 334v3M965.5 340v3M965.5 346v3M965.5 352v3M965.5 358v3M965.5 364v3M965.5 370v3M965.5 376v3M965.5 382v3M965.5 388v3M965.5 394v3M965.5 400v3M965.5 406v3M965.5 412v3M965.5 418v3M965.5 424v3M965.5 430v3M965.5 436v3M965.5 442v3M965.5 448v3M965.5 454v3M965.5 460v3M965.5 466v3M965.5 472v3M965.5 478v3M965.5 484v3M965.5 490v3M965.5 496v3M965.5 502v3M965.5 508v3M965.5 514v3M965.5 520v3M965.5 526v3M965.5 532v3M965.5 538v3M965.5 544v3M965.5 550v3M965.5 556v3M965.5 562v1M965.5 568v3M965.5 574v3M965.5 580v3M965.5 586v3M965.5 592v3M965.5 598v3M965.5 604v3M965.5 610v3M965.5 616v3M965.5 622v3M965.5 628v3M965.5 634v3M965.5 640v3M965.5 646v3M965.5 652v3M965.5 658v3M965.5 664v3M965.5 670v3M965.5 676v3M965.5 682v3M965.5 688v3M965.5 694v3M965.5 700v3M965.5 706v3M1013.5 5v2M1013.5 10v3M1013.5 16v3M1013.5 22v3M1013.5 28v3M1013.5 34v3M1013.5 40v3M1013.5 46v3M1013.5 52v3M1013.5 58v3M1013.5 64v3M1013.5 70v3M1013.5 76v3M1013.5 82v3M1013.5 88v3M1013.5 94v3M1013.5 100v3M1013.5 106v3M1013.5 112v3M1013.5 118v3M1013.5 124v3M1013.5 130v3M1013.5 136v3M1013.5 142v3M1013.5 148v3M1013.5 154v3M1013.5 160v3M1013.5 166v3M1013.5 172v3M1013.5 178v3M1013.5 184v3M1013.5 190v3M1013.5 196v3M1013.5 202v3M1013.5 208v3M1013.5 214v3M1013.5 220v3M1013.5 226v3M1013.5 232v3M1013.5 238v3M1013.5 244v3M1013.5 250v3M1013.5 256v3M1013.5 262v3M1013.5 268v3M1013.5 274v3M1013.5 280v3M1013.5 286v3M1013.5 292v3M1013.5 298v3M1013.5 304v3M1013.5 310v3M1013.5 316v3M1013.5 322v3M1013.5 328v3M1013.5 334v3M1013.5 340v3M1013.5 346v3M1013.5 352v3M1013.5 358v3M1013.5 364v3M1013.5 370v3M1013.5 376v3M1013.5 382v3M1013.5 388v3M1013.5 394v3M1013.5 400v3M1013.5 406v3M1013.5 412v3M1013.5 418v3M1013.5 424v3M1013.5 430v3M1013.5 436v3M1013.5 442v3M1013.5 448v3M1013.5 454v3M1013.5 460v3M1013.5 466v3M1013.5 472v3M1013.5 478v3M1013.5 484v3M1013.5 490v3M1013.5 496v3M1013.5 502v3M1013.5 508v3M1013.5 514v3M1013.5 520v3M1013.5 526v3M1013.5 532v3M1013.5 538v3M1013.5 544v3M1013.5 550v3M1013.5 556v3M1013.5 562v1M1013.5 568v3M1013.5 574v3M1013.5 580v3M1013.5 586v3M1013.5 592v3M1013.5 598v3M1013.5 604v3M1013.5 610v3M1013.5 616v3M1013.5 622v3M1013.5 628v3M1013.5 634v3M1013.5 640v3M1013.5 646v3M1013.5 652v3M1013.5 658v3M1013.5 664v3M1013.5 670v3M1013.5 676v3M1013.5 682v3M1013.5 688v3M1013.5 694v3M1013.5 700v3M1013.5 706v3M1061.5 5v2M1061.5 10v3M1061.5 16v3M1061.5 22v3M1061.5 28v3M1061.5 34v3M1061.5 40v3M1061.5 46v3M1061.5 52v3M1061.5 58v3M1061.5 64v3M1061.5 70v3M1061.5 76v3M1061.5 82v3M1061.5 88v3M1061.5 94v3M1061.5 100v3M1061.5 106v3M1061.5 112v3M1061.5 118v3M1061.5 124v3M1061.5 130v3M1061.5 136v3M1061.5 142v3M1061.5 148v3M1061.5 154v3M1061.5 160v3M1061.5 166v3M1061.5 172v3M1061.5 178v3M1061.5 184v3M1061.5 190v3M1061.5 196v3M1061.5 202v3M1061.5 208v3M1061.5 214v3M1061.5 220v3M1061.5 226v3M1061.5 232v3M1061.5 238v3M1061.5 244v3M1061.5 250v3M1061.5 256v3M1061.5 262v3M1061.5 268v3M1061.5 274v3M1061.5 280v3M1061.5 286v3M1061.5 292v3M1061.5 298v3M1061.5 304v3M1061.5 310v3M1061.5 316v3M1061.5 322v3M1061.5 328v3M1061.5 334v3M1061.5 340v3M1061.5 346v3M1061.5 352v3M1061.5 358v3M1061.5 364v3M1061.5 370v3M1061.5 376v3M1061.5 382v3M1061.5 388v3M1061.5 394v3M1061.5 400v3M1061.5 406v3M1061.5 412v3M1061.5 418v3M1061.5 424v3M1061.5 430v3M1061.5 436v3M1061.5 442v3M1061.5 448v3M1061.5 454v3M1061.5 460v3M1061.5 466v3M1061.5 472v3M1061.5 478v3M1061.5 484v3M1061.5 490v3M1061.5 496v3M1061.5 502v3M1061.5 508v3M1061.5 514v3M1061.5 520v3M1061.5 526v3M1061.5 532v3M1061.5 538v3M1061.5 544v3M1061.5 550v3M1061.5 556v3M1061.5 562v1M1061.5 568v3M1061.5 574v3M1061.5 580v3M1061.5 586v3M1061.5 592v3M1061.5 598v3M1061.5 604v3M1061.5 610v3M1061.5 616v3M1061.5 622v3M1061.5 628v3M1061.5 634v3M1061.5 640v3M1061.5 646v3M1061.5 652v3M1061.5 658v3M1061.5 664v3M1061.5 670v3M1061.5 676v3M1061.5 682v3M1061.5 688v3M1061.5 694v3M1061.5 700v3M1061.5 706v3M1109.5 5v2M1109.5 10v3M1109.5 16v3M1109.5 22v3M1109.5 28v3M1109.5 34v3M1109.5 40v3M1109.5 46v3M1109.5 52v3M1109.5 58v3M1109.5 64v3M1109.5 70v3M1109.5 76v3M1109.5 82v3M1109.5 88v3M1109.5 94v3M1109.5 100v3M1109.5 106v3M1109.5 112v3M1109.5 118v3M1109.5 124v3M1109.5 130v3M1109.5 136v3M1109.5 142v3M1109.5 148v3M1109.5 154v3M1109.5 160v3M1109.5 166v3M1109.5 172v3M1109.5 178v3M1109.5 184v3M1109.5 190v3M1109.5 196v3M1109.5 202v3M1109.5 208v3M1109.5 214v3M1109.5 220v3M1109.5 226v3M1109.5 232v3M1109.5 238v3M1109.5 244v3M1109.5 250v3M1109.5 256v3M1109.5 262v3M1109.5 268v3M1109.5 274v3M1109.5 280v3M1109.5 286v3M1109.5 292v3M1109.5 298v3M1109.5 304v3M1109.5 310v3M1109.5 316v3M1109.5 322v3M1109.5 328v3M1109.5 334v3M1109.5 340v3M1109.5 346v3M1109.5 352v3M1109.5 358v3M1109.5 364v3M1109.5 370v3M1109.5 376v3M1109.5 382v3M1109.5 388v3M1109.5 394v3M1109.5 400v3M1109.5 406v3M1109.5 412v3M1109.5 418v3M1109.5 424v3M1109.5 430v3M1109.5 436v3M1109.5 442v3M1109.5 448v3M1109.5 454v3M1109.5 460v3M1109.5 466v3M1109.5 472v3M1109.5 478v3M1109.5 484v3M1109.5 490v3M1109.5 496v3M1109.5 502v3M1109.5 508v3M1109.5 514v3M1109.5 520v3M1109.5 526v3M1109.5 532v3M1109.5 538v3M1109.5 544v3M1109.5 550v3M1109.5 556v3M1109.5 562v1M1109.5 568v3M1109.5 574v3M1109.5 580v3M1109.5 586v3M1109.5 592v3M1109.5 598v3M1109.5 604v3M1109.5 610v3M1109.5 616v3M1109.5 622v3M1109.5 628v3M1109.5 634v3M1109.5 640v3M1109.5 646v3M1109.5 652v3M1109.5 658v3M1109.5 664v3M1109.5 670v3M1109.5 676v3M1109.5 682v3M1109.5 688v3M1109.5 694v3M1109.5 700v3M1109.5 706v3M1157.5 5v2M1157.5 10v3M1157.5 16v3M1157.5 22v3M1157.5 28v3M1157.5 34v3M1157.5 40v3M1157.5 46v3M1157.5 52v3M1157.5 58v3M1157.5 64v3M1157.5 70v3M1157.5 76v3M1157.5 82v3M1157.5 88v3M1157.5 94v3M1157.5 100v3M1157.5 106v3M1157.5 112v3M1157.5 118v3M1157.5 124v3M1157.5 130v3M1157.5 136v3M1157.5 142v3M1157.5 148v3M1157.5 154v3M1157.5 160v3M1157.5 166v3M1157.5 172v3M1157.5 178v3M1157.5 184v3M1157.5 190v3M1157.5 196v3M1157.5 202v3M1157.5 208v3M1157.5 214v3M1157.5 220v3M1157.5 226v3M1157.5 232v3M1157.5 238v3M1157.5 244v3M1157.5 250v3M1157.5 256v3M1157.5 262v3M1157.5 268v3M1157.5 274v3M1157.5 280v3M1157.5 286v3M1157.5 292v3M1157.5 298v3M1157.5 304v3M1157.5 310v3M1157.5 316v3M1157.5 322v3M1157.5 328v3M1157.5 334v3M1157.5 340v3M1157.5 346v3M1157.5 352v3M1157.5 358v3M1157.5 364v3M1157.5 370v3M1157.5 376v3M1157.5 382v3M1157.5 388v3M1157.5 394v3M1157.5 400v3M1157.5 406v3M1157.5 412v3M1157.5 418v3M1157.5 424v3M1157.5 430v3M1157.5 436v3M1157.5 442v3M1157.5 448v3M1157.5 454v3M1157.5 460v3M1157.5 466v3M1157.5 472v3M1157.5 478v3M1157.5 484v3M1157.5 490v3M1157.5 496v3M1157.5 502v3M1157.5 508v3M1157.5 514v3M1157.5 520v3M1157.5 526v3M1157.5 532v3M1157.5 538v3M1157.5 544v3M1157.5 550v3M1157.5 556v3M1157.5 562v1M1157.5 568v3M1157.5 574v3M1157.5 580v3M1157.5 586v3M1157.5 592v3M1157.5 598v3M1157.5 604v3M1157.5 610v3M1157.5 616v3M1157.5 622v3M1157.5 628v3M1157.5 634v3M1157.5 640v3M1157.5 646v3M1157.5 652v3M1157.5 658v3M1157.5 664v3M1157.5 670v3M1157.5 676v3M1157.5 682v3M1157.5 688v3M1157.5 694v3M1157.5 700v3M1157.5 706v3M1205.5 5v2M1205.5 10v3M1205.5 16v3M1205.5 22v3M1205.5 28v3M1205.5 34v3M1205.5 40v3M1205.5 46v3M1205.5 52v3M1205.5 58v3M1205.5 64v3M1205.5 70v3M1205.5 76v3M1205.5 82v3M1205.5 88v3M1205.5 94v3M1205.5 100v3M1205.5 106v3M1205.5 112v3M1205.5 118v3M1205.5 124v3M1205.5 130v3M1205.5 136v3M1205.5 142v3M1205.5 148v3M1205.5 154v3M1205.5 160v3M1205.5 166v3M1205.5 172v3M1205.5 178v3M1205.5 184v3M1205.5 190v3M1205.5 196v3M1205.5 202v3M1205.5 208v3M1205.5 214v3M1205.5 220v3M1205.5 226v3M1205.5 232v3M1205.5 238v3M1205.5 244v3M1205.5 250v3M1205.5 256v3M1205.5 262v3M1205.5 268v3M1205.5 274v3M1205.5 280v3M1205.5 286v3M1205.5 292v3M1205.5 298v3M1205.5 304v3M1205.5 310v3M1205.5 316v3M1205.5 322v3M1205.5 328v3M1205.5 334v3M1205.5 340v3M1205.5 346v3M1205.5 352v3M1205.5 358v3M1205.5 364v3M1205.5 370v3M1205.5 376v3M1205.5 382v3M1205.5 388v3M1205.5 394v3M1205.5 400v3M1205.5 406v3M1205.5 412v3M1205.5 418v3M1205.5 424v3M1205.5 430v3M1205.5 436v3M1205.5 442v3M1205.5 448v3M1205.5 454v3M1205.5 460v3M1205.5 466v3M1205.5 472v3M1205.5 478v3M1205.5 484v3M1205.5 490v3M1205.5 496v3M1205.5 502v3M1205.5 508v3M1205.5 514v3M1205.5 520v3M1205.5 526v3M1205.5 532v3M1205.5 538v3M1205.5 544v3M1205.5 550v3M1205.5 556v3M1205.5 562v1M1205.5 568v3M1205.5 574v3M1205.5 580v3M1205.5 586v3M1205.5 592v3M1205.5 598v3M1205.5 604v3M1205.5 610v3M1205.5 616v3M1205.5 622v3M1205.5 628v3M1205.5 634v3M1205.5 640v3M1205.5 646v3M1205.5 652v3M1205.5 658v3M1205.5 664v3M1205.5 670v3M1205.5 676v3M1205.5 682v3M1205.5 688v3M1205.5 694v3M1205.5 700v3M1205.5 706v3M1253.5 5v2M1253.5 10v3M1253.5 16v3M1253.5 22v3M1253.5 28v3M1253.5 34v3M1253.5 40v3M1253.5 46v3M1253.5 52v3M1253.5 58v3M1253.5 64v3M1253.5 70v3M1253.5 76v3M1253.5 82v3M1253.5 88v3M1253.5 94v3M1253.5 100v3M1253.5 106v3M1253.5 112v3M1253.5 118v3M1253.5 124v3M1253.5 130v3M1253.5 136v3M1253.5 142v3M1253.5 148v3M1253.5 154v3M1253.5 160v3M1253.5 166v3M1253.5 172v3M1253.5 178v3M1253.5 184v3M1253.5 190v3M1253.5 196v3M1253.5 202v3M1253.5 208v3M1253.5 214v3M1253.5 220v3M1253.5 226v3M1253.5 232v3M1253.5 238v3M1253.5 244v3M1253.5 250v3M1253.5 256v3M1253.5 262v3M1253.5 268v3M1253.5 274v3M1253.5 280v3M1253.5 286v3M1253.5 292v3M1253.5 298v3M1253.5 304v3M1253.5 310v3M1253.5 316v3M1253.5 322v3M1253.5 328v3M1253.5 334v3M1253.5 340v3M1253.5 346v3M1253.5 352v3M1253.5 358v3M1253.5 364v3M1253.5 370v3M1253.5 376v3M1253.5 382v3M1253.5 388v3M1253.5 394v3M1253.5 400v3M1253.5 406v3M1253.5 412v3M1253.5 418v3M1253.5 424v3M1253.5 430v3M1253.5 436v3M1253.5 442v3M1253.5 448v3M1253.5 454v3M1253.5 460v3M1253.5 466v3M1253.5 472v3M1253.5 478v3M1253.5 484v3M1253.5 490v3M1253.5 496v3M1253.5 502v3M1253.5 508v3M1253.5 514v3M1253.5 520v3M1253.5 526v3M1253.5 532v3M1253.5 538v3M1253.5 544v3M1253.5 550v3M1253.5 556v3M1253.5 562v1M1253.5 568v3M1253.5 574v3M1253.5 580v3M1253.5 586v3M1253.5 592v3M1253.5 598v3M1253.5 604v3M1253.5 610v3M1253.5 616v3M1253.5 622v3M1253.5 628v3M1253.5 634v3M1253.5 640v3M1253.5 646v3M1253.5 652v3M1253.5 658v3M1253.5 664v3M1253.5 670v3M1253.5 676v3M1253.5 682v3M1253.5 688v3M1253.5 694v3M1253.5 700v3M1253.5 706v3M1301.5 5v2M1301.5 10v3M1301.5 16v3M1301.5 22v3M1301.5 28v3M1301.5 34v3M1301.5 40v3M1301.5 46v3M1301.5 52v3M1301.5 58v3M1301.5 64v3M1301.5 70v3M1301.5 76v3M1301.5 82v3M1301.5 88v3M1301.5 94v3M1301.5 100v3M1301.5 106v3M1301.5 112v3M1301.5 118v3M1301.5 124v3M1301.5 130v3M1301.5 136v3M1301.5 142v3M1301.5 148v3M1301.5 154v3M1301.5 160v3M1301.5 166v3M1301.5 172v3M1301.5 178v3M1301.5 184v3M1301.5 190v3M1301.5 196v3M1301.5 202v3M1301.5 208v3M1301.5 214v3M1301.5 220v3M1301.5 226v3M1301.5 232v3M1301.5 238v3M1301.5 244v3M1301.5 250v3M1301.5 256v3M1301.5 262v3M1301.5 268v3M1301.5 274v3M1301.5 280v3M1301.5 286v3M1301.5 292v3M1301.5 298v3M1301.5 304v3M1301.5 310v3M1301.5 316v3M1301.5 322v3M1301.5 328v3M1301.5 334v3M1301.5 340v3M1301.5 346v3M1301.5 352v3M1301.5 358v3M1301.5 364v3M1301.5 370v3M1301.5 376v3M1301.5 382v3M1301.5 388v3M1301.5 394v3M1301.5 400v3M1301.5 406v3M1301.5 412v3M1301.5 418v3M1301.5 424v3M1301.5 430v3M1301.5 436v3M1301.5 442v3M1301.5 448v3M1301.5 454v3M1301.5 460v3M1301.5 466v3M1301.5 472v3M1301.5 478v3M1301.5 484v3M1301.5 490v3M1301.5 496v3M1301.5 502v3M1301.5 508v3M1301.5 514v3M1301.5 520v3M1301.5 526v3M1301.5 532v3M1301.5 538v3M1301.5 544v3M1301.5 550v3M1301.5 556v3M1301.5 562v1M1301.5 568v3M1301.5 574v3M1301.5 580v3M1301.5 586v3M1301.5 592v3M1301.5 598v3M1301.5 604v3M1301.5 610v3M1301.5 616v3M1301.5 622v3M1301.5 628v3M1301.5 634v3M1301.5 640v3M1301.5 646v3M1301.5 652v3M1301.5 658v3M1301.5 664v3M1301.5 670v3M1301.5 676v3M1301.5 682v3M1301.5 688v3M1301.5 694v3M1301.5 700v3M1301.5 706v3M1349.5 5v2M1349.5 10v3M1349.5 16v3M1349.5 22v3M1349.5 28v3M1349.5 34v3M1349.5 40v3M1349.5 46v3M1349.5 52v3M1349.5 58v3M1349.5 64v3M1349.5 70v3M1349.5 76v3M1349.5 82v3M1349.5 88v3M1349.5 94v3M1349.5 100v3M1349.5 106v3M1349.5 112v3M1349.5 118v3M1349.5 124v3M1349.5 130v3M1349.5 136v3M1349.5 142v3M1349.5 148v3M1349.5 154v3M1349.5 160v3M1349.5 166v3M1349.5 172v3M1349.5 178v3M1349.5 184v3M1349.5 190v3M1349.5 196v3M1349.5 202v3M1349.5 208v3M1349.5 214v3M1349.5 220v3M1349.5 226v3M1349.5 232v3M1349.5 238v3M1349.5 244v3M1349.5 250v3M1349.5 256v3M1349.5 262v3M1349.5 268v3M1349.5 274v3M1349.5 280v3M1349.5 286v3M1349.5 292v3M1349.5 298v3M1349.5 304v3M1349.5 310v3M1349.5 316v3M1349.5 322v3M1349.5 328v3M1349.5 334v3M1349.5 340v3M1349.5 346v3M1349.5 352v3M1349.5 358v3M1349.5 364v3M1349.5 370v3M1349.5 376v3M1349.5 382v3M1349.5 388v3M1349.5 394v3M1349.5 400v3M1349.5 406v3M1349.5 412v3M1349.5 418v3M1349.5 424v3M1349.5 430v3M1349.5 436v3M1349.5 442v3M1349.5 448v3M1349.5 454v3M1349.5 460v3M1349.5 466v3M1349.5 472v3M1349.5 478v3M1349.5 484v3M1349.5 490v3M1349.5 496v3M1349.5 502v3M1349.5 508v3M1349.5 514v3M1349.5 520v3M1349.5 526v3M1349.5 532v3M1349.5 538v3M1349.5 544v3M1349.5 550v3M1349.5 556v3M1349.5 562v1M1349.5 568v3M1349.5 574v3M1349.5 580v3M1349.5 586v3M1349.5 592v3M1349.5 598v3M1349.5 604v3M1349.5 610v3M1349.5 616v3M1349.5 622v3M1349.5 628v3M1349.5 634v3M1349.5 640v3M1349.5 646v3M1349.5 652v3M1349.5 658v3M1349.5 664v3M1349.5 670v3M1349.5 676v3M1349.5 682v3M1349.5 688v3M1349.5 694v3M1349.5 700v3M1349.5 706v3M1397.5 5v2M1397.5 10v3M1397.5 16v3M1397.5 22v3M1397.5 28v3M1397.5 34v3M1397.5 40v3M1397.5 46v3M1397.5 52v3M1397.5 58v3M1397.5 64v3M1397.5 70v3M1397.5 76v3M1397.5 82v3M1397.5 88v3M1397.5 94v3M1397.5 100v3M1397.5 106v3M1397.5 112v3M1397.5 118v3M1397.5 124v3M1397.5 130v3M1397.5 136v3M1397.5 142v3M1397.5 148v3M1397.5 154v3M1397.5 160v3M1397.5 166v3M1397.5 172v3M1397.5 178v3M1397.5 184v3M1397.5 190v3M1397.5 196v3M1397.5 202v3M1397.5 208v3M1397.5 214v3M1397.5 220v3M1397.5 226v3M1397.5 232v3M1397.5 238v3M1397.5 244v3M1397.5 250v3M1397.5 256v3M1397.5 262v3M1397.5 268v3M1397.5 274v3M1397.5 280v3M1397.5 286v3M1397.5 292v3M1397.5 298v3M1397.5 304v3M1397.5 310v3M1397.5 316v3M1397.5 322v3M1397.5 328v3M1397.5 334v3M1397.5 340v3M1397.5 346v3M1397.5 352v3M1397.5 358v3M1397.5 364v3M1397.5 370v3M1397.5 376v3M1397.5 382v3M1397.5 388v3M1397.5 394v3M1397.5 400v3M1397.5 406v3M1397.5 412v3M1397.5 418v3M1397.5 424v3M1397.5 430v3M1397.5 436v3M1397.5 442v3M1397.5 448v3M1397.5 454v3M1397.5 460v3M1397.5 466v3M1397.5 472v3M1397.5 478v3M1397.5 484v3M1397.5 490v3M1397.5 496v3M1397.5 502v3M1397.5 508v3M1397.5 514v3M1397.5 520v3M1397.5 526v3M1397.5 532v3M1397.5 538v3M1397.5 544v3M1397.5 550v3M1397.5 556v3M1397.5 562v1M1397.5 568v3M1397.5 574v3M1397.5 580v3M1397.5 586v3M1397.5 592v3M1397.5 598v3M1397.5 604v3M1397.5 610v3M1397.5 616v3M1397.5 622v3M1397.5 628v3M1397.5 634v3M1397.5 640v3M1397.5 646v3M1397.5 652v3M1397.5 658v3M1397.5 664v3M1397.5 670v3M1397.5 676v3M1397.5 682v3M1397.5 688v3M1397.5 694v3M1397.5 700v3M1397.5 706v3M1445.5 5v2M1445.5 10v3M1445.5 16v3M1445.5 22v3M1445.5 28v3M1445.5 34v3M1445.5 40v3M1445.5 46v3M1445.5 52v3M1445.5 58v3M1445.5 64v3M1445.5 70v3M1445.5 76v3M1445.5 82v3M1445.5 88v3M1445.5 94v3M1445.5 100v3M1445.5 106v3M1445.5 112v3M1445.5 118v3M1445.5 124v3M1445.5 130v3M1445.5 136v3M1445.5 142v3M1445.5 148v3M1445.5 154v3M1445.5 160v3M1445.5 166v3M1445.5 172v3M1445.5 178v3M1445.5 184v3M1445.5 190v3M1445.5 196v3M1445.5 202v3M1445.5 208v3M1445.5 214v3M1445.5 220v3M1445.5 226v3M1445.5 232v3M1445.5 238v3M1445.5 244v3M1445.5 250v3M1445.5 256v3M1445.5 262v3M1445.5 268v3M1445.5 274v3M1445.5 280v3M1445.5 286v3M1445.5 292v3M1445.5 298v3M1445.5 304v3M1445.5 310v3M1445.5 316v3M1445.5 322v3M1445.5 328v3M1445.5 334v3M1445.5 340v3M1445.5 346v3M1445.5 352v3M1445.5 358v3M1445.5 364v3M1445.5 370v3M1445.5 376v3M1445.5 382v3M1445.5 388v3M1445.5 394v3M1445.5 400v3M1445.5 406v3M1445.5 412v3M1445.5 418v3M1445.5 424v3M1445.5 430v3M1445.5 436v3M1445.5 442v3M1445.5 448v3M1445.5 454v3M1445.5 460v3M1445.5 466v3M1445.5 472v3M1445.5 478v3M1445.5 484v3M1445.5 490v3M1445.5 496v3M1445.5 502v3M1445.5 508v3M1445.5 514v3M1445.5 520v3M1445.5 526v3M1445.5 532v3M1445.5 538v3M1445.5 544v3M1445.5 550v3M1445.5 556v3M1445.5 562v1M1445.5 568v3M1445.5 574v3M1445.5 580v3M1445.5 586v3M1445.5 592v3M1445.5 598v3M1445.5 604v3M1445.5 610v3M1445.5 616v3M1445.5 622v3M1445.5 628v3M1445.5 634v3M1445.5 640v3M1445.5 646v3M1445.5 652v3M1445.5 658v3M1445.5 664v3M1445.5 670v3M1445.5 676v3M1445.5 682v3M1445.5 688v3M1445.5 694v3M1445.5 700v3M1445.5 706v3M1493.5 5v2M1493.5 10v3M1493.5 16v3M1493.5 22v3M1493.5 28v3M1493.5 34v3M1493.5 40v3M1493.5 46v3M1493.5 52v3M1493.5 58v3M1493.5 64v3M1493.5 70v3M1493.5 76v3M1493.5 82v3M1493.5 88v3M1493.5 94v3M1493.5 100v3M1493.5 106v3M1493.5 112v3M1493.5 118v3M1493.5 124v3M1493.5 130v3M1493.5 136v3M1493.5 142v3M1493.5 148v3M1493.5 154v3M1493.5 160v3M1493.5 166v3M1493.5 172v3M1493.5 178v3M1493.5 184v3M1493.5 190v3M1493.5 196v3M1493.5 202v3M1493.5 208v3M1493.5 214v3M1493.5 220v3M1493.5 226v3M1493.5 232v3M1493.5 238v3M1493.5 244v3M1493.5 250v3M1493.5 256v3M1493.5 262v3M1493.5 268v3M1493.5 274v3M1493.5 280v3M1493.5 286v3M1493.5 292v3M1493.5 298v3M1493.5 304v3M1493.5 310v3M1493.5 316v3M1493.5 322v3M1493.5 328v3M1493.5 334v3M1493.5 340v3M1493.5 346v3M1493.5 352v3M1493.5 358v3M1493.5 364v3M1493.5 370v3M1493.5 376v3M1493.5 382v3M1493.5 388v3M1493.5 394v3M1493.5 400v3M1493.5 406v3M1493.5 412v3M1493.5 418v3M1493.5 424v3M1493.5 430v3M1493.5 436v3M1493.5 442v3M1493.5 448v3M1493.5 454v3M1493.5 460v3M1493.5 466v3M1493.5 472v3M1493.5 478v3M1493.5 484v3M1493.5 490v3M1493.5 496v3M1493.5 502v3M1493.5 508v3M1493.5 514v3M1493.5 520v3M1493.5 526v3M1493.5 532v3M1493.5 538v3M1493.5 544v3M1493.5 550v3M1493.5 556v3M1493.5 562v1M1493.5 568v3M1493.5 574v3M1493.5 580v3M1493.5 586v3M1493.5 592v3M1493.5 598v3M1493.5 604v3M1493.5 610v3M1493.5 616v3M1493.5 622v3M1493.5 628v3M1493.5 634v3M1493.5 640v3M1493.5 646v3M1493.5 652v3M1493.5 658v3M1493.5 664v3M1493.5 670v3M1493.5 676v3M1493.5 682v3M1493.5 688v3M1493.5 694v3M1493.5 700v3M1493.5 706v3M1541.5 5v2M1541.5 10v3M1541.5 16v3M1541.5 22v3M1541.5 28v3M1541.5 34v3M1541.5 40v3M1541.5 46v3M1541.5 52v3M1541.5 58v3M1541.5 64v3M1541.5 70v3M1541.5 76v3M1541.5 82v3M1541.5 88v3M1541.5 94v3M1541.5 100v3M1541.5 106v3M1541.5 112v3M1541.5 118v3M1541.5 124v3M1541.5 130v3M1541.5 136v3M1541.5 142v3M1541.5 148v3M1541.5 154v3M1541.5 160v3M1541.5 166v3M1541.5 172v3M1541.5 178v3M1541.5 184v3M1541.5 190v3M1541.5 196v3M1541.5 202v3M1541.5 208v3M1541.5 214v3M1541.5 220v3M1541.5 226v3M1541.5 232v3M1541.5 238v3M1541.5 244v3M1541.5 250v3M1541.5 256v3M1541.5 262v3M1541.5 268v3M1541.5 274v3M1541.5 280v3M1541.5 286v3M1541.5 292v3M1541.5 298v3M1541.5 304v3M1541.5 310v3M1541.5 316v3M1541.5 322v3M1541.5 328v3M1541.5 334v3M1541.5 340v3M1541.5 346v3M1541.5 352v3M1541.5 358v3M1541.5 364v3M1541.5 370v3M1541.5 376v3M1541.5 382v3M1541.5 388v3M1541.5 394v3M1541.5 400v3M1541.5 406v3M1541.5 412v3M1541.5 418v3M1541.5 424v3M1541.5 430v3M1541.5 436v3M1541.5 442v3M1541.5 448v3M1541.5 454v3M1541.5 460v3M1541.5 466v3M1541.5 472v3M1541.5 478v3M1541.5 484v3M1541.5 490v3M1541.5 496v3M1541.5 502v3M1541.5 508v3M1541.5 514v3M1541.5 520v3M1541.5 526v3M1541.5 532v3M1541.5 538v3M1541.5 544v3M1541.5 550v3M1541.5 556v3M1541.5 562v1M1541.5 568v3M1541.5 574v3M1541.5 580v3M1541.5 586v3M1541.5 592v3M1541.5 598v3M1541.5 604v3M1541.5 610v3M1541.5 616v3M1541.5 622v3M1541.5 628v3M1541.5 634v3M1541.5 640v3M1541.5 646v3M1541.5 652v3M1541.5 658v3M1541.5 664v3M1541.5 670v3M1541.5 676v3M1541.5 682v3M1541.5 688v3M1541.5 694v3M1541.5 700v3M1541.5 706v3M6 54.5h3M12 54.5h3M18 54.5h3M24 54.5h3M30 54.5h3M36 54.5h3M42 54.5h3M48 54.5h3M54 54.5h3M60 54.5h3M66 54.5h3M72 54.5h3M78 54.5h3M84 54.5h3M90 54.5h3M96 54.5h3M102 54.5h3M108 54.5h3M114 54.5h3M120 54.5h3M126 54.5h3M132 54.5h3M138 54.5h3M144 54.5h3M150 54.5h3M156 54.5h3M162 54.5h3M168 54.5h3M174 54.5h3M180 54.5h3M186 54.5h3M192 54.5h3M198 54.5h3M204 54.5h3M210 54.5h3M216 54.5h3M222 54.5h3M228 54.5h3M234 54.5h3M240 54.5h3M246 54.5h3M252 54.5h3M258 54.5h3M264 54.5h3M270 54.5h3M276 54.5h3M282 54.5h3M288 54.5h3M294 54.5h3M300 54.5h3M306 54.5h3M312 54.5h3M318 54.5h3M324 54.5h3M330 54.5h3M336 54.5h3M342 54.5h3M348 54.5h3M354 54.5h3M360 54.5h3M366 54.5h3M372 54.5h3M378 54.5h3M384 54.5h3M390 54.5h3M396 54.5h3M402 54.5h3M408 54.5h3M414 54.5h3M420 54.5h3M426 54.5h3M432 54.5h3M438 54.5h3M444 54.5h3M450 54.5h3M456 54.5h3M462 54.5h3M468 54.5h3M474 54.5h3M480 54.5h3M486 54.5h3M492 54.5h3M498 54.5h3M504 54.5h3M510 54.5h3M516 54.5h3M522 54.5h3M528 54.5h3M534 54.5h3M540 54.5h3M546 54.5h3M552 54.5h3M558 54.5h3M564 54.5h3M570 54.5h3M576 54.5h3M582 54.5h3M588 54.5h3M594 54.5h3M600 54.5h3M606 54.5h3M612 54.5h3M618 54.5h3M624 54.5h3M630 54.5h3M636 54.5h3M642 54.5h3M648 54.5h3M654 54.5h3M660 54.5h3M666 54.5h3M672 54.5h3M678 54.5h3M684 54.5h3M690 54.5h3M696 54.5h3M702 54.5h3M708 54.5h3M714 54.5h3M720 54.5h3M726 54.5h3M732 54.5h3M738 54.5h3M744 54.5h3M750 54.5h3M756 54.5h3M762 54.5h3M768 54.5h3M774 54.5h3M780 54.5h3M786 54.5h3M792 54.5h3M798 54.5h3M804 54.5h3M810 54.5h3M816 54.5h3M822 54.5h3M828 54.5h3M834 54.5h3M840 54.5h3M846 54.5h3M852 54.5h3M858 54.5h3M864 54.5h3M870 54.5h3M876 54.5h3M882 54.5h3M888 54.5h3M894 54.5h3M900 54.5h3M906 54.5h3M912 54.5h3M918 54.5h3M924 54.5h3M930 54.5h3M936 54.5h3M942 54.5h3M948 54.5h3M954 54.5h3M960 54.5h3M966 54.5h3M972 54.5h3M978 54.5h3M984 54.5h3M990 54.5h3M996 54.5h3M1002 54.5h3M1008 54.5h3M1014 54.5h3M1020 54.5h3M1026 54.5h3M1032 54.5h3M1038 54.5h3M1044 54.5h3M1050 54.5h3M1056 54.5h3M1062 54.5h3M1068 54.5h3M1074 54.5h3M1080 54.5h3M1086 54.5h3M1092 54.5h3M1098 54.5h3M1104 54.5h3M1110 54.5h3M1116 54.5h3M1122 54.5h3M1128 54.5h3M1134 54.5h3M1140 54.5h3M1146 54.5h3M1152 54.5h3M1158 54.5h3M1164 54.5h3M1170 54.5h3M1176 54.5h3M1182 54.5h3M1188 54.5h3M1194 54.5h3M1200 54.5h3M1206 54.5h3M1212 54.5h3M1218 54.5h3M1224 54.5h3M1230 54.5h3M1236 54.5h3M1242 54.5h3M1248 54.5h3M1254 54.5h3M1260 54.5h3M1266 54.5h3M1272 54.5h3M1278 54.5h3M1284 54.5h3M1290 54.5h3M1296 54.5h3M1302 54.5h3M1308 54.5h3M1314 54.5h3M1320 54.5h3M1326 54.5h3M1332 54.5h3M1338 54.5h3M1344 54.5h3M1350 54.5h3M1356 54.5h3M1362 54.5h3M1368 54.5h3M1374 54.5h3M1380 54.5h3M1386 54.5h3M1392 54.5h3M1398 54.5h3M1404 54.5h3M1410 54.5h3M1416 54.5h3M1422 54.5h3M1428 54.5h3M1434 54.5h3M1440 54.5h3M1446 54.5h3M1452 54.5h3M1458 54.5h3M1464 54.5h3M1470 54.5h3M1476 54.5h3M1482 54.5h3M1488 54.5h3M1494 54.5h3M1500 54.5h3M1506 54.5h3M1512 54.5h3M1518 54.5h3M1524 54.5h3M1530 54.5h3M1536 54.5h3M6 103.5h3M12 103.5h3M18 103.5h3M24 103.5h3M30 103.5h3M36 103.5h3M42 103.5h3M48 103.5h3M54 103.5h3M60 103.5h3M66 103.5h3M72 103.5h3M78 103.5h3M84 103.5h3M90 103.5h3M96 103.5h3M102 103.5h3M108 103.5h3M114 103.5h3M120 103.5h3M126 103.5h3M132 103.5h3M138 103.5h3M144 103.5h3M150 103.5h3M156 103.5h3M162 103.5h3M168 103.5h3M174 103.5h3M180 103.5h3M186 103.5h3M192 103.5h3M198 103.5h3M204 103.5h3M210 103.5h3M216 103.5h3M222 103.5h3M228 103.5h3M234 103.5h3M240 103.5h3M246 103.5h3M252 103.5h3M258 103.5h3M264 103.5h3M270 103.5h3M276 103.5h3M282 103.5h3M288 103.5h3M294 103.5h3M300 103.5h3M306 103.5h3M312 103.5h3M318 103.5h3M324 103.5h3M330 103.5h3M336 103.5h3M342 103.5h3M348 103.5h3M354 103.5h3M360 103.5h3M366 103.5h3M372 103.5h3M378 103.5h3M384 103.5h3M390 103.5h3M396 103.5h3M402 103.5h3M408 103.5h3M414 103.5h3M420 103.5h3M426 103.5h3M432 103.5h3M438 103.5h3M444 103.5h3M450 103.5h3M456 103.5h3M462 103.5h3M468 103.5h3M474 103.5h3M480 103.5h3M486 103.5h3M492 103.5h3M498 103.5h3M504 103.5h3M510 103.5h3M516 103.5h3M522 103.5h3M528 103.5h3M534 103.5h3M540 103.5h3M546 103.5h3M552 103.5h3M558 103.5h3M564 103.5h3M570 103.5h3M576 103.5h3M582 103.5h3M588 103.5h3M594 103.5h3M600 103.5h3M606 103.5h3M612 103.5h3M618 103.5h3M624 103.5h3M630 103.5h3M636 103.5h3M642 103.5h3M648 103.5h3M654 103.5h3M660 103.5h3M666 103.5h3M672 103.5h3M678 103.5h3M684 103.5h3M690 103.5h3M696 103.5h3M702 103.5h3M708 103.5h3M714 103.5h3M720 103.5h3M726 103.5h3M732 103.5h3M738 103.5h3M744 103.5h3M750 103.5h3M756 103.5h3M762 103.5h3M768 103.5h3M774 103.5h3M780 103.5h3M786 103.5h3M792 103.5h3M798 103.5h3M804 103.5h3M810 103.5h3M816 103.5h3M822 103.5h3M828 103.5h3M834 103.5h3M840 103.5h3M846 103.5h3M852 103.5h3M858 103.5h3M864 103.5h3M870 103.5h3M876 103.5h3M882 103.5h3M888 103.5h3M894 103.5h3M900 103.5h3M906 103.5h3M912 103.5h3M918 103.5h3M924 103.5h3M930 103.5h3M936 103.5h3M942 103.5h3M948 103.5h3M954 103.5h3M960 103.5h3M966 103.5h3M972 103.5h3M978 103.5h3M984 103.5h3M990 103.5h3M996 103.5h3M1002 103.5h3M1008 103.5h3M1014 103.5h3M1020 103.5h3M1026 103.5h3M1032 103.5h3M1038 103.5h3M1044 103.5h3M1050 103.5h3M1056 103.5h3M1062 103.5h3M1068 103.5h3M1074 103.5h3M1080 103.5h3M1086 103.5h3M1092 103.5h3M1098 103.5h3M1104 103.5h3M1110 103.5h3M1116 103.5h3M1122 103.5h3M1128 103.5h3M1134 103.5h3M1140 103.5h3M1146 103.5h3M1152 103.5h3M1158 103.5h3M1164 103.5h3M1170 103.5h3M1176 103.5h3M1182 103.5h3M1188 103.5h3M1194 103.5h3M1200 103.5h3M1206 103.5h3M1212 103.5h3M1218 103.5h3M1224 103.5h3M1230 103.5h3M1236 103.5h3M1242 103.5h3M1248 103.5h3M1254 103.5h3M1260 103.5h3M1266 103.5h3M1272 103.5h3M1278 103.5h3M1284 103.5h3M1290 103.5h3M1296 103.5h3M1302 103.5h3M1308 103.5h3M1314 103.5h3M1320 103.5h3M1326 103.5h3M1332 103.5h3M1338 103.5h3M1344 103.5h3M1350 103.5h3M1356 103.5h3M1362 103.5h3M1368 103.5h3M1374 103.5h3M1380 103.5h3M1386 103.5h3M1392 103.5h3M1398 103.5h3M1404 103.5h3M1410 103.5h3M1416 103.5h3M1422 103.5h3M1428 103.5h3M1434 103.5h3M1440 103.5h3M1446 103.5h3M1452 103.5h3M1458 103.5h3M1464 103.5h3M1470 103.5h3M1476 103.5h3M1482 103.5h3M1488 103.5h3M1494 103.5h3M1500 103.5h3M1506 103.5h3M1512 103.5h3M1518 103.5h3M1524 103.5h3M1530 103.5h3M1536 103.5h3M6 152.5h3M12 152.5h3M18 152.5h3M24 152.5h3M30 152.5h3M36 152.5h3M42 152.5h3M48 152.5h3M54 152.5h3M60 152.5h3M66 152.5h3M72 152.5h3M78 152.5h3M84 152.5h3M90 152.5h3M96 152.5h3M102 152.5h3M108 152.5h3M114 152.5h3M120 152.5h3M126 152.5h3M132 152.5h3M138 152.5h3M144 152.5h3M150 152.5h3M156 152.5h3M162 152.5h3M168 152.5h3M174 152.5h3M180 152.5h3M186 152.5h3M192 152.5h3M198 152.5h3M204 152.5h3M210 152.5h3M216 152.5h3M222 152.5h3M228 152.5h3M234 152.5h3M240 152.5h3M246 152.5h3M252 152.5h3M258 152.5h3M264 152.5h3M270 152.5h3M276 152.5h3M282 152.5h3M288 152.5h3M294 152.5h3M300 152.5h3M306 152.5h3M312 152.5h3M318 152.5h3M324 152.5h3M330 152.5h3M336 152.5h3M342 152.5h3M348 152.5h3M354 152.5h3M360 152.5h3M366 152.5h3M372 152.5h3M378 152.5h3M384 152.5h3M390 152.5h3M396 152.5h3M402 152.5h3M408 152.5h3M414 152.5h3M420 152.5h3M426 152.5h3M432 152.5h3M438 152.5h3M444 152.5h3M450 152.5h3M456 152.5h3M462 152.5h3M468 152.5h3M474 152.5h3M480 152.5h3M486 152.5h3M492 152.5h3M498 152.5h3M504 152.5h3M510 152.5h3M516 152.5h3M522 152.5h3M528 152.5h3M534 152.5h3M540 152.5h3M546 152.5h3M552 152.5h3M558 152.5h3M564 152.5h3M570 152.5h3M576 152.5h3M582 152.5h3M588 152.5h3M594 152.5h3M600 152.5h3M606 152.5h3M612 152.5h3M618 152.5h3M624 152.5h3M630 152.5h3M636 152.5h3M642 152.5h3M648 152.5h3M654 152.5h3M660 152.5h3M666 152.5h3M672 152.5h3M678 152.5h3M684 152.5h3M690 152.5h3M696 152.5h3M702 152.5h3M708 152.5h3M714 152.5h3M720 152.5h3M726 152.5h3M732 152.5h3M738 152.5h3M744 152.5h3M750 152.5h3M756 152.5h3M762 152.5h3M768 152.5h3M774 152.5h3M780 152.5h3M786 152.5h3M792 152.5h3M798 152.5h3M804 152.5h3M810 152.5h3M816 152.5h3M822 152.5h3M828 152.5h3M834 152.5h3M840 152.5h3M846 152.5h3M852 152.5h3M858 152.5h3M864 152.5h3M870 152.5h3M876 152.5h3M882 152.5h3M888 152.5h3M894 152.5h3M900 152.5h3M906 152.5h3M912 152.5h3M918 152.5h3M924 152.5h3M930 152.5h3M936 152.5h3M942 152.5h3M948 152.5h3M954 152.5h3M960 152.5h3M966 152.5h3M972 152.5h3M978 152.5h3M984 152.5h3M990 152.5h3M996 152.5h3M1002 152.5h3M1008 152.5h3M1014 152.5h3M1020 152.5h3M1026 152.5h3M1032 152.5h3M1038 152.5h3M1044 152.5h3M1050 152.5h3M1056 152.5h3M1062 152.5h3M1068 152.5h3M1074 152.5h3M1080 152.5h3M1086 152.5h3M1092 152.5h3M1098 152.5h3M1104 152.5h3M1110 152.5h3M1116 152.5h3M1122 152.5h3M1128 152.5h3M1134 152.5h3M1140 152.5h3M1146 152.5h3M1152 152.5h3M1158 152.5h3M1164 152.5h3M1170 152.5h3M1176 152.5h3M1182 152.5h3M1188 152.5h3M1194 152.5h3M1200 152.5h3M1206 152.5h3M1212 152.5h3M1218 152.5h3M1224 152.5h3M1230 152.5h3M1236 152.5h3M1242 152.5h3M1248 152.5h3M1254 152.5h3M1260 152.5h3M1266 152.5h3M1272 152.5h3M1278 152.5h3M1284 152.5h3M1290 152.5h3M1296 152.5h3M1302 152.5h3M1308 152.5h3M1314 152.5h3M1320 152.5h3M1326 152.5h3M1332 152.5h3M1338 152.5h3M1344 152.5h3M1350 152.5h3M1356 152.5h3M1362 152.5h3M1368 152.5h3M1374 152.5h3M1380 152.5h3M1386 152.5h3M1392 152.5h3M1398 152.5h3M1404 152.5h3M1410 152.5h3M1416 152.5h3M1422 152.5h3M1428 152.5h3M1434 152.5h3M1440 152.5h3M1446 152.5h3M1452 152.5h3M1458 152.5h3M1464 152.5h3M1470 152.5h3M1476 152.5h3M1482 152.5h3M1488 152.5h3M1494 152.5h3M1500 152.5h3M1506 152.5h3M1512 152.5h3M1518 152.5h3M1524 152.5h3M1530 152.5h3M1536 152.5h3M6 201.5h3M12 201.5h3M18 201.5h3M24 201.5h3M30 201.5h3M36 201.5h3M42 201.5h3M48 201.5h3M54 201.5h3M60 201.5h3M66 201.5h3M72 201.5h3M78 201.5h3M84 201.5h3M90 201.5h3M96 201.5h3M102 201.5h3M108 201.5h3M114 201.5h3M120 201.5h3M126 201.5h3M132 201.5h3M138 201.5h3M144 201.5h3M150 201.5h3M156 201.5h3M162 201.5h3M168 201.5h3M174 201.5h3M180 201.5h3M186 201.5h3M192 201.5h3M198 201.5h3M204 201.5h3M210 201.5h3M216 201.5h3M222 201.5h3M228 201.5h3M234 201.5h3M240 201.5h3M246 201.5h3M252 201.5h3M258 201.5h3M264 201.5h3M270 201.5h3M276 201.5h3M282 201.5h3M288 201.5h3M294 201.5h3M300 201.5h3M306 201.5h3M312 201.5h3M318 201.5h3M324 201.5h3M330 201.5h3M336 201.5h3M342 201.5h3M348 201.5h3M354 201.5h3M360 201.5h3M366 201.5h3M372 201.5h3M378 201.5h3M384 201.5h3M390 201.5h3M396 201.5h3M402 201.5h3M408 201.5h3M414 201.5h3M420 201.5h3M426 201.5h3M432 201.5h3M438 201.5h3M444 201.5h3M450 201.5h3M456 201.5h3M462 201.5h3M468 201.5h3M474 201.5h3M480 201.5h3M486 201.5h3M492 201.5h3M498 201.5h3M504 201.5h3M510 201.5h3M516 201.5h3M522 201.5h3M528 201.5h3M534 201.5h3M540 201.5h3M546 201.5h3M552 201.5h3M558 201.5h3M564 201.5h3M570 201.5h3M576 201.5h3M582 201.5h3M588 201.5h3M594 201.5h3M600 201.5h3M606 201.5h3M612 201.5h3M618 201.5h3M624 201.5h3M630 201.5h3M636 201.5h3M642 201.5h3M648 201.5h3M654 201.5h3M660 201.5h3M666 201.5h3M672 201.5h3M678 201.5h3M684 201.5h3M690 201.5h3M696 201.5h3M702 201.5h3M708 201.5h3M714 201.5h3M720 201.5h3M726 201.5h3M732 201.5h3M738 201.5h3M744 201.5h3M750 201.5h3M756 201.5h3M762 201.5h3M768 201.5h3M774 201.5h3M780 201.5h3M786 201.5h3M792 201.5h3M798 201.5h3M804 201.5h3M810 201.5h3M816 201.5h3M822 201.5h3M828 201.5h3M834 201.5h3M840 201.5h3M846 201.5h3M852 201.5h3M858 201.5h3M864 201.5h3M870 201.5h3M876 201.5h3M882 201.5h3M888 201.5h3M894 201.5h3M900 201.5h3M906 201.5h3M912 201.5h3M918 201.5h3M924 201.5h3M930 201.5h3M936 201.5h3M942 201.5h3M948 201.5h3M954 201.5h3M960 201.5h3M966 201.5h3M972 201.5h3M978 201.5h3M984 201.5h3M990 201.5h3M996 201.5h3M1002 201.5h3M1008 201.5h3M1014 201.5h3M1020 201.5h3M1026 201.5h3M1032 201.5h3M1038 201.5h3M1044 201.5h3M1050 201.5h3M1056 201.5h3M1062 201.5h3M1068 201.5h3M1074 201.5h3M1080 201.5h3M1086 201.5h3M1092 201.5h3M1098 201.5h3M1104 201.5h3M1110 201.5h3M1116 201.5h3M1122 201.5h3M1128 201.5h3M1134 201.5h3M1140 201.5h3M1146 201.5h3M1152 201.5h3M1158 201.5h3M1164 201.5h3M1170 201.5h3M1176 201.5h3M1182 201.5h3M1188 201.5h3M1194 201.5h3M1200 201.5h3M1206 201.5h3M1212 201.5h3M1218 201.5h3M1224 201.5h3M1230 201.5h3M1236 201.5h3M1242 201.5h3M1248 201.5h3M1254 201.5h3M1260 201.5h3M1266 201.5h3M1272 201.5h3M1278 201.5h3M1284 201.5h3M1290 201.5h3M1296 201.5h3M1302 201.5h3M1308 201.5h3M1314 201.5h3M1320 201.5h3M1326 201.5h3M1332 201.5h3M1338 201.5h3M1344 201.5h3M1350 201.5h3M1356 201.5h3M1362 201.5h3M1368 201.5h3M1374 201.5h3M1380 201.5h3M1386 201.5h3M1392 201.5h3M1398 201.5h3M1404 201.5h3M1410 201.5h3M1416 201.5h3M1422 201.5h3M1428 201.5h3M1434 201.5h3M1440 201.5h3M1446 201.5h3M1452 201.5h3M1458 201.5h3M1464 201.5h3M1470 201.5h3M1476 201.5h3M1482 201.5h3M1488 201.5h3M1494 201.5h3M1500 201.5h3M1506 201.5h3M1512 201.5h3M1518 201.5h3M1524 201.5h3M1530 201.5h3M1536 201.5h3M6 250.5h3M12 250.5h3M18 250.5h3M24 250.5h3M30 250.5h3M36 250.5h3M42 250.5h3M48 250.5h3M54 250.5h3M60 250.5h3M66 250.5h3M72 250.5h3M78 250.5h3M84 250.5h3M90 250.5h3M96 250.5h3M102 250.5h3M108 250.5h3M114 250.5h3M120 250.5h3M126 250.5h3M132 250.5h3M138 250.5h3M144 250.5h3M150 250.5h3M156 250.5h3M162 250.5h3M168 250.5h3M174 250.5h3M180 250.5h3M186 250.5h3M192 250.5h3M198 250.5h3M204 250.5h3M210 250.5h3M216 250.5h3M222 250.5h3M228 250.5h3M234 250.5h3M240 250.5h3M246 250.5h3M252 250.5h3M258 250.5h3M264 250.5h3M270 250.5h3M276 250.5h3M282 250.5h3M288 250.5h3M294 250.5h3M300 250.5h3M306 250.5h3M312 250.5h3M318 250.5h3M324 250.5h3M330 250.5h3M336 250.5h3M342 250.5h3M348 250.5h3M354 250.5h3M360 250.5h3M366 250.5h3M372 250.5h3M378 250.5h3M384 250.5h3M390 250.5h3M396 250.5h3M402 250.5h3M408 250.5h3M414 250.5h3M420 250.5h3M426 250.5h3M432 250.5h3M438 250.5h3M444 250.5h3M450 250.5h3M456 250.5h3M462 250.5h3M468 250.5h3M474 250.5h3M480 250.5h3M486 250.5h3M492 250.5h3M498 250.5h3M504 250.5h3M510 250.5h3M516 250.5h3M522 250.5h3M528 250.5h3M534 250.5h3M540 250.5h3M546 250.5h3M552 250.5h3M558 250.5h3M564 250.5h3M570 250.5h3M576 250.5h3M582 250.5h3M588 250.5h3M594 250.5h3M600 250.5h3M606 250.5h3M612 250.5h3M618 250.5h3M624 250.5h3M630 250.5h3M636 250.5h3M642 250.5h3M648 250.5h3M654 250.5h3M660 250.5h3M666 250.5h3M672 250.5h3M678 250.5h3M684 250.5h3M690 250.5h3M696 250.5h3M702 250.5h3M708 250.5h3M714 250.5h3M720 250.5h3M726 250.5h3M732 250.5h3M738 250.5h3M744 250.5h3M750 250.5h3M756 250.5h3M762 250.5h3M768 250.5h3M774 250.5h3M780 250.5h3M786 250.5h3M792 250.5h3M798 250.5h3M804 250.5h3M810 250.5h3M816 250.5h3M822 250.5h3M828 250.5h3M834 250.5h3M840 250.5h3M846 250.5h3M852 250.5h3M858 250.5h3M864 250.5h3M870 250.5h3M876 250.5h3M882 250.5h3M888 250.5h3M894 250.5h3M900 250.5h3M906 250.5h3M912 250.5h3M918 250.5h3M924 250.5h3M930 250.5h3M936 250.5h3M942 250.5h3M948 250.5h3M954 250.5h3M960 250.5h3M966 250.5h3M972 250.5h3M978 250.5h3M984 250.5h3M990 250.5h3M996 250.5h3M1002 250.5h3M1008 250.5h3M1014 250.5h3M1020 250.5h3M1026 250.5h3M1032 250.5h3M1038 250.5h3M1044 250.5h3M1050 250.5h3M1056 250.5h3M1062 250.5h3M1068 250.5h3M1074 250.5h3M1080 250.5h3M1086 250.5h3M1092 250.5h3M1098 250.5h3M1104 250.5h3M1110 250.5h3M1116 250.5h3M1122 250.5h3M1128 250.5h3M1134 250.5h3M1140 250.5h3M1146 250.5h3M1152 250.5h3M1158 250.5h3M1164 250.5h3M1170 250.5h3M1176 250.5h3M1182 250.5h3M1188 250.5h3M1194 250.5h3M1200 250.5h3M1206 250.5h3M1212 250.5h3M1218 250.5h3M1224 250.5h3M1230 250.5h3M1236 250.5h3M1242 250.5h3M1248 250.5h3M1254 250.5h3M1260 250.5h3M1266 250.5h3M1272 250.5h3M1278 250.5h3M1284 250.5h3M1290 250.5h3M1296 250.5h3M1302 250.5h3M1308 250.5h3M1314 250.5h3M1320 250.5h3M1326 250.5h3M1332 250.5h3M1338 250.5h3M1344 250.5h3M1350 250.5h3M1356 250.5h3M1362 250.5h3M1368 250.5h3M1374 250.5h3M1380 250.5h3M1386 250.5h3M1392 250.5h3M1398 250.5h3M1404 250.5h3M1410 250.5h3M1416 250.5h3M1422 250.5h3M1428 250.5h3M1434 250.5h3M1440 250.5h3M1446 250.5h3M1452 250.5h3M1458 250.5h3M1464 250.5h3M1470 250.5h3M1476 250.5h3M1482 250.5h3M1488 250.5h3M1494 250.5h3M1500 250.5h3M1506 250.5h3M1512 250.5h3M1518 250.5h3M1524 250.5h3M1530 250.5h3M1536 250.5h3M6 299.5h3M12 299.5h3M18 299.5h3M24 299.5h3M30 299.5h3M36 299.5h3M42 299.5h3M48 299.5h3M54 299.5h3M60 299.5h3M66 299.5h3M72 299.5h3M78 299.5h3M84 299.5h3M90 299.5h3M96 299.5h3M102 299.5h3M108 299.5h3M114 299.5h3M120 299.5h3M126 299.5h3M132 299.5h3M138 299.5h3M144 299.5h3M150 299.5h3M156 299.5h3M162 299.5h3M168 299.5h3M174 299.5h3M180 299.5h3M186 299.5h3M192 299.5h3M198 299.5h3M204 299.5h3M210 299.5h3M216 299.5h3M222 299.5h3M228 299.5h3M234 299.5h3M240 299.5h3M246 299.5h3M252 299.5h3M258 299.5h3M264 299.5h3M270 299.5h3M276 299.5h3M282 299.5h3M288 299.5h3M294 299.5h3M300 299.5h3M306 299.5h3M312 299.5h3M318 299.5h3M324 299.5h3M330 299.5h3M336 299.5h3M342 299.5h3M348 299.5h3M354 299.5h3M360 299.5h3M366 299.5h3M372 299.5h3M378 299.5h3M384 299.5h3M390 299.5h3M396 299.5h3M402 299.5h3M408 299.5h3M414 299.5h3M420 299.5h3M426 299.5h3M432 299.5h3M438 299.5h3M444 299.5h3M450 299.5h3M456 299.5h3M462 299.5h3M468 299.5h3M474 299.5h3M480 299.5h3M486 299.5h3M492 299.5h3M498 299.5h3M504 299.5h3M510 299.5h3M516 299.5h3M522 299.5h3M528 299.5h3M534 299.5h3M540 299.5h3M546 299.5h3M552 299.5h3M558 299.5h3M564 299.5h3M570 299.5h3M576 299.5h3M582 299.5h3M588 299.5h3M594 299.5h3M600 299.5h3M606 299.5h3M612 299.5h3M618 299.5h3M624 299.5h3M630 299.5h3M636 299.5h3M642 299.5h3M648 299.5h3M654 299.5h3M660 299.5h3M666 299.5h3M672 299.5h3M678 299.5h3M684 299.5h3M690 299.5h3M696 299.5h3M702 299.5h3M708 299.5h3M714 299.5h3M720 299.5h3M726 299.5h3M732 299.5h3M738 299.5h3M744 299.5h3M750 299.5h3M756 299.5h3M762 299.5h3M768 299.5h3M774 299.5h3M780 299.5h3M786 299.5h3M792 299.5h3M798 299.5h3M804 299.5h3M810 299.5h3M816 299.5h3M822 299.5h3M828 299.5h3M834 299.5h3M840 299.5h3M846 299.5h3M852 299.5h3M858 299.5h3M864 299.5h3M870 299.5h3M876 299.5h3M882 299.5h3M888 299.5h3M894 299.5h3M900 299.5h3M906 299.5h3M912 299.5h3M918 299.5h3M924 299.5h3M930 299.5h3M936 299.5h3M942 299.5h3M948 299.5h3M954 299.5h3M960 299.5h3M966 299.5h3M972 299.5h3M978 299.5h3M984 299.5h3M990 299.5h3M996 299.5h3M1002 299.5h3M1008 299.5h3M1014 299.5h3M1020 299.5h3M1026 299.5h3M1032 299.5h3M1038 299.5h3M1044 299.5h3M1050 299.5h3M1056 299.5h3M1062 299.5h3M1068 299.5h3M1074 299.5h3M1080 299.5h3M1086 299.5h3M1092 299.5h3M1098 299.5h3M1104 299.5h3M1110 299.5h3M1116 299.5h3M1122 299.5h3M1128 299.5h3M1134 299.5h3M1140 299.5h3M1146 299.5h3M1152 299.5h3M1158 299.5h3M1164 299.5h3M1170 299.5h3M1176 299.5h3M1182 299.5h3M1188 299.5h3M1194 299.5h3M1200 299.5h3M1206 299.5h3M1212 299.5h3M1218 299.5h3M1224 299.5h3M1230 299.5h3M1236 299.5h3M1242 299.5h3M1248 299.5h3M1254 299.5h3M1260 299.5h3M1266 299.5h3M1272 299.5h3M1278 299.5h3M1284 299.5h3M1290 299.5h3M1296 299.5h3M1302 299.5h3M1308 299.5h3M1314 299.5h3M1320 299.5h3M1326 299.5h3M1332 299.5h3M1338 299.5h3M1344 299.5h3M1350 299.5h3M1356 299.5h3M1362 299.5h3M1368 299.5h3M1374 299.5h3M1380 299.5h3M1386 299.5h3M1392 299.5h3M1398 299.5h3M1404 299.5h3M1410 299.5h3M1416 299.5h3M1422 299.5h3M1428 299.5h3M1434 299.5h3M1440 299.5h3M1446 299.5h3M1452 299.5h3M1458 299.5h3M1464 299.5h3M1470 299.5h3M1476 299.5h3M1482 299.5h3M1488 299.5h3M1494 299.5h3M1500 299.5h3M1506 299.5h3M1512 299.5h3M1518 299.5h3M1524 299.5h3M1530 299.5h3M1536 299.5h3M6 348.5h3M12 348.5h3M18 348.5h3M24 348.5h3M30 348.5h3M36 348.5h3M42 348.5h3M48 348.5h3M54 348.5h3M60 348.5h3M66 348.5h3M72 348.5h3M78 348.5h3M84 348.5h3M90 348.5h3M96 348.5h3M102 348.5h3M108 348.5h3M114 348.5h3M120 348.5h3M126 348.5h3M132 348.5h3M138 348.5h3M144 348.5h3M150 348.5h3M156 348.5h3M162 348.5h3M168 348.5h3M174 348.5h3M180 348.5h3M186 348.5h3M192 348.5h3M198 348.5h3M204 348.5h3M210 348.5h3M216 348.5h3M222 348.5h3M228 348.5h3M234 348.5h3M240 348.5h3M246 348.5h3M252 348.5h3M258 348.5h3M264 348.5h3M270 348.5h3M276 348.5h3M282 348.5h3M288 348.5h3M294 348.5h3M300 348.5h3M306 348.5h3M312 348.5h3M318 348.5h3M324 348.5h3M330 348.5h3M336 348.5h3M342 348.5h3M348 348.5h3M354 348.5h3M360 348.5h3M366 348.5h3M372 348.5h3M378 348.5h3M384 348.5h3M390 348.5h3M396 348.5h3M402 348.5h3M408 348.5h3M414 348.5h3M420 348.5h3M426 348.5h3M432 348.5h3M438 348.5h3M444 348.5h3M450 348.5h3M456 348.5h3M462 348.5h3M468 348.5h3M474 348.5h3M480 348.5h3M486 348.5h3M492 348.5h3M498 348.5h3M504 348.5h3M510 348.5h3M516 348.5h3M522 348.5h3M528 348.5h3M534 348.5h3M540 348.5h3M546 348.5h3M552 348.5h3M558 348.5h3M564 348.5h3M570 348.5h3M576 348.5h3M582 348.5h3M588 348.5h3M594 348.5h3M600 348.5h3M606 348.5h3M612 348.5h3M618 348.5h3M624 348.5h3M630 348.5h3M636 348.5h3M642 348.5h3M648 348.5h3M654 348.5h3M660 348.5h3M666 348.5h3M672 348.5h3M678 348.5h3M684 348.5h3M690 348.5h3M696 348.5h3M702 348.5h3M708 348.5h3M714 348.5h3M720 348.5h3M726 348.5h3M732 348.5h3M738 348.5h3M744 348.5h3M750 348.5h3M756 348.5h3M762 348.5h3M768 348.5h3M774 348.5h3M780 348.5h3M786 348.5h3M792 348.5h3M798 348.5h3M804 348.5h3M810 348.5h3M816 348.5h3M822 348.5h3M828 348.5h3M834 348.5h3M840 348.5h3M846 348.5h3M852 348.5h3M858 348.5h3M864 348.5h3M870 348.5h3M876 348.5h3M882 348.5h3M888 348.5h3M894 348.5h3M900 348.5h3M906 348.5h3M912 348.5h3M918 348.5h3M924 348.5h3M930 348.5h3M936 348.5h3M942 348.5h3M948 348.5h3M954 348.5h3M960 348.5h3M966 348.5h3M972 348.5h3M978 348.5h3M984 348.5h3M990 348.5h3M996 348.5h3M1002 348.5h3M1008 348.5h3M1014 348.5h3M1020 348.5h3M1026 348.5h3M1032 348.5h3M1038 348.5h3M1044 348.5h3M1050 348.5h3M1056 348.5h3M1062 348.5h3M1068 348.5h3M1074 348.5h3M1080 348.5h3M1086 348.5h3M1092 348.5h3M1098 348.5h3M1104 348.5h3M1110 348.5h3M1116 348.5h3M1122 348.5h3M1128 348.5h3M1134 348.5h3M1140 348.5h3M1146 348.5h3M1152 348.5h3M1158 348.5h3M1164 348.5h3M1170 348.5h3M1176 348.5h3M1182 348.5h3M1188 348.5h3M1194 348.5h3M1200 348.5h3M1206 348.5h3M1212 348.5h3M1218 348.5h3M1224 348.5h3M1230 348.5h3M1236 348.5h3M1242 348.5h3M1248 348.5h3M1254 348.5h3M1260 348.5h3M1266 348.5h3M1272 348.5h3M1278 348.5h3M1284 348.5h3M1290 348.5h3M1296 348.5h3M1302 348.5h3M1308 348.5h3M1314 348.5h3M1320 348.5h3M1326 348.5h3M1332 348.5h3M1338 348.5h3M1344 348.5h3M1350 348.5h3M1356 348.5h3M1362 348.5h3M1368 348.5h3M1374 348.5h3M1380 348.5h3M1386 348.5h3M1392 348.5h3M1398 348.5h3M1404 348.5h3M1410 348.5h3M1416 348.5h3M1422 348.5h3M1428 348.5h3M1434 348.5h3M1440 348.5h3M1446 348.5h3M1452 348.5h3M1458 348.5h3M1464 348.5h3M1470 348.5h3M1476 348.5h3M1482 348.5h3M1488 348.5h3M1494 348.5h3M1500 348.5h3M1506 348.5h3M1512 348.5h3M1518 348.5h3M1524 348.5h3M1530 348.5h3M1536 348.5h3M6 397.5h3M12 397.5h3M18 397.5h3M24 397.5h3M30 397.5h3M36 397.5h3M42 397.5h3M48 397.5h3M54 397.5h3M60 397.5h3M66 397.5h3M72 397.5h3M78 397.5h3M84 397.5h3M90 397.5h3M96 397.5h3M102 397.5h3M108 397.5h3M114 397.5h3M120 397.5h3M126 397.5h3M132 397.5h3M138 397.5h3M144 397.5h3M150 397.5h3M156 397.5h3M162 397.5h3M168 397.5h3M174 397.5h3M180 397.5h3M186 397.5h3M192 397.5h3M198 397.5h3M204 397.5h3M210 397.5h3M216 397.5h3M222 397.5h3M228 397.5h3M234 397.5h3M240 397.5h3M246 397.5h3M252 397.5h3M258 397.5h3M264 397.5h3M270 397.5h3M276 397.5h3M282 397.5h3M288 397.5h3M294 397.5h3M300 397.5h3M306 397.5h3M312 397.5h3M318 397.5h3M324 397.5h3M330 397.5h3M336 397.5h3M342 397.5h3M348 397.5h3M354 397.5h3M360 397.5h3M366 397.5h3M372 397.5h3M378 397.5h3M384 397.5h3M390 397.5h3M396 397.5h3M402 397.5h3M408 397.5h3M414 397.5h3M420 397.5h3M426 397.5h3M432 397.5h3M438 397.5h3M444 397.5h3M450 397.5h3M456 397.5h3M462 397.5h3M468 397.5h3M474 397.5h3M480 397.5h3M486 397.5h3M492 397.5h3M498 397.5h3M504 397.5h3M510 397.5h3M516 397.5h3M522 397.5h3M528 397.5h3M534 397.5h3M540 397.5h3M546 397.5h3M552 397.5h3M558 397.5h3M564 397.5h3M570 397.5h3M576 397.5h3M582 397.5h3M588 397.5h3M594 397.5h3M600 397.5h3M606 397.5h3M612 397.5h3M618 397.5h3M624 397.5h3M630 397.5h3M636 397.5h3M642 397.5h3M648 397.5h3M654 397.5h3M660 397.5h3M666 397.5h3M672 397.5h3M678 397.5h3M684 397.5h3M690 397.5h3M696 397.5h3M702 397.5h3M708 397.5h3M714 397.5h3M720 397.5h3M726 397.5h3M732 397.5h3M738 397.5h3M744 397.5h3M750 397.5h3M756 397.5h3M762 397.5h3M768 397.5h3M774 397.5h3M780 397.5h3M786 397.5h3M792 397.5h3M798 397.5h3M804 397.5h3M810 397.5h3M816 397.5h3M822 397.5h3M828 397.5h3M834 397.5h3M840 397.5h3M846 397.5h3M852 397.5h3M858 397.5h3M864 397.5h3M870 397.5h3M876 397.5h3M882 397.5h3M888 397.5h3M894 397.5h3M900 397.5h3M906 397.5h3M912 397.5h3M918 397.5h3M924 397.5h3M930 397.5h3M936 397.5h3M942 397.5h3M948 397.5h3M954 397.5h3M960 397.5h3M966 397.5h3M972 397.5h3M978 397.5h3M984 397.5h3M990 397.5h3M996 397.5h3M1002 397.5h3M1008 397.5h3M1014 397.5h3M1020 397.5h3M1026 397.5h3M1032 397.5h3M1038 397.5h3M1044 397.5h3M1050 397.5h3M1056 397.5h3M1062 397.5h3M1068 397.5h3M1074 397.5h3M1080 397.5h3M1086 397.5h3M1092 397.5h3M1098 397.5h3M1104 397.5h3M1110 397.5h3M1116 397.5h3M1122 397.5h3M1128 397.5h3M1134 397.5h3M1140 397.5h3M1146 397.5h3M1152 397.5h3M1158 397.5h3M1164 397.5h3M1170 397.5h3M1176 397.5h3M1182 397.5h3M1188 397.5h3M1194 397.5h3M1200 397.5h3M1206 397.5h3M1212 397.5h3M1218 397.5h3M1224 397.5h3M1230 397.5h3M1236 397.5h3M1242 397.5h3M1248 397.5h3M1254 397.5h3M1260 397.5h3M1266 397.5h3M1272 397.5h3M1278 397.5h3M1284 397.5h3M1290 397.5h3M1296 397.5h3M1302 397.5h3M1308 397.5h3M1314 397.5h3M1320 397.5h3M1326 397.5h3M1332 397.5h3M1338 397.5h3M1344 397.5h3M1350 397.5h3M1356 397.5h3M1362 397.5h3M1368 397.5h3M1374 397.5h3M1380 397.5h3M1386 397.5h3M1392 397.5h3M1398 397.5h3M1404 397.5h3M1410 397.5h3M1416 397.5h3M1422 397.5h3M1428 397.5h3M1434 397.5h3M1440 397.5h3M1446 397.5h3M1452 397.5h3M1458 397.5h3M1464 397.5h3M1470 397.5h3M1476 397.5h3M1482 397.5h3M1488 397.5h3M1494 397.5h3M1500 397.5h3M1506 397.5h3M1512 397.5h3M1518 397.5h3M1524 397.5h3M1530 397.5h3M1536 397.5h3M6 446.5h3M12 446.5h3M18 446.5h3M24 446.5h3M30 446.5h3M36 446.5h3M42 446.5h3M48 446.5h3M54 446.5h3M60 446.5h3M66 446.5h3M72 446.5h3M78 446.5h3M84 446.5h3M90 446.5h3M96 446.5h3M102 446.5h3M108 446.5h3M114 446.5h3M120 446.5h3M126 446.5h3M132 446.5h3M138 446.5h3M144 446.5h3M150 446.5h3M156 446.5h3M162 446.5h3M168 446.5h3M174 446.5h3M180 446.5h3M186 446.5h3M192 446.5h3M198 446.5h3M204 446.5h3M210 446.5h3M216 446.5h3M222 446.5h3M228 446.5h3M234 446.5h3M240 446.5h3M246 446.5h3M252 446.5h3M258 446.5h3M264 446.5h3M270 446.5h3M276 446.5h3M282 446.5h3M288 446.5h3M294 446.5h3M300 446.5h3M306 446.5h3M312 446.5h3M318 446.5h3M324 446.5h3M330 446.5h3M336 446.5h3M342 446.5h3M348 446.5h3M354 446.5h3M360 446.5h3M366 446.5h3M372 446.5h3M378 446.5h3M384 446.5h3M390 446.5h3M396 446.5h3M402 446.5h3M408 446.5h3M414 446.5h3M420 446.5h3M426 446.5h3M432 446.5h3M438 446.5h3M444 446.5h3M450 446.5h3M456 446.5h3M462 446.5h3M468 446.5h3M474 446.5h3M480 446.5h3M486 446.5h3M492 446.5h3M498 446.5h3M504 446.5h3M510 446.5h3M516 446.5h3M522 446.5h3M528 446.5h3M534 446.5h3M540 446.5h3M546 446.5h3M552 446.5h3M558 446.5h3M564 446.5h3M570 446.5h3M576 446.5h3M582 446.5h3M588 446.5h3M594 446.5h3M600 446.5h3M606 446.5h3M612 446.5h3M618 446.5h3M624 446.5h3M630 446.5h3M636 446.5h3M642 446.5h3M648 446.5h3M654 446.5h3M660 446.5h3M666 446.5h3M672 446.5h3M678 446.5h3M684 446.5h3M690 446.5h3M696 446.5h3M702 446.5h3M708 446.5h3M714 446.5h3M720 446.5h3M726 446.5h3M732 446.5h3M738 446.5h3M744 446.5h3M750 446.5h3M756 446.5h3M762 446.5h3M768 446.5h3M774 446.5h3M780 446.5h3M786 446.5h3M792 446.5h3M798 446.5h3M804 446.5h3M810 446.5h3M816 446.5h3M822 446.5h3M828 446.5h3M834 446.5h3M840 446.5h3M846 446.5h3M852 446.5h3M858 446.5h3M864 446.5h3M870 446.5h3M876 446.5h3M882 446.5h3M888 446.5h3M894 446.5h3M900 446.5h3M906 446.5h3M912 446.5h3M918 446.5h3M924 446.5h3M930 446.5h3M936 446.5h3M942 446.5h3M948 446.5h3M954 446.5h3M960 446.5h3M966 446.5h3M972 446.5h3M978 446.5h3M984 446.5h3M990 446.5h3M996 446.5h3M1002 446.5h3M1008 446.5h3M1014 446.5h3M1020 446.5h3M1026 446.5h3M1032 446.5h3M1038 446.5h3M1044 446.5h3M1050 446.5h3M1056 446.5h3M1062 446.5h3M1068 446.5h3M1074 446.5h3M1080 446.5h3M1086 446.5h3M1092 446.5h3M1098 446.5h3M1104 446.5h3M1110 446.5h3M1116 446.5h3M1122 446.5h3M1128 446.5h3M1134 446.5h3M1140 446.5h3M1146 446.5h3M1152 446.5h3M1158 446.5h3M1164 446.5h3M1170 446.5h3M1176 446.5h3M1182 446.5h3M1188 446.5h3M1194 446.5h3M1200 446.5h3M1206 446.5h3M1212 446.5h3M1218 446.5h3M1224 446.5h3M1230 446.5h3M1236 446.5h3M1242 446.5h3M1248 446.5h3M1254 446.5h3M1260 446.5h3M1266 446.5h3M1272 446.5h3M1278 446.5h3M1284 446.5h3M1290 446.5h3M1296 446.5h3M1302 446.5h3M1308 446.5h3M1314 446.5h3M1320 446.5h3M1326 446.5h3M1332 446.5h3M1338 446.5h3M1344 446.5h3M1350 446.5h3M1356 446.5h3M1362 446.5h3M1368 446.5h3M1374 446.5h3M1380 446.5h3M1386 446.5h3M1392 446.5h3M1398 446.5h3M1404 446.5h3M1410 446.5h3M1416 446.5h3M1422 446.5h3M1428 446.5h3M1434 446.5h3M1440 446.5h3M1446 446.5h3M1452 446.5h3M1458 446.5h3M1464 446.5h3M1470 446.5h3M1476 446.5h3M1482 446.5h3M1488 446.5h3M1494 446.5h3M1500 446.5h3M1506 446.5h3M1512 446.5h3M1518 446.5h3M1524 446.5h3M1530 446.5h3M1536 446.5h3M6 495.5h3M12 495.5h3M18 495.5h3M24 495.5h3M30 495.5h3M36 495.5h3M42 495.5h3M48 495.5h3M54 495.5h3M60 495.5h3M66 495.5h3M72 495.5h3M78 495.5h3M84 495.5h3M90 495.5h3M96 495.5h3M102 495.5h3M108 495.5h3M114 495.5h3M120 495.5h3M126 495.5h3M132 495.5h3M138 495.5h3M144 495.5h3M150 495.5h3M156 495.5h3M162 495.5h3M168 495.5h3M174 495.5h3M180 495.5h3M186 495.5h3M192 495.5h3M198 495.5h3M204 495.5h3M210 495.5h3M216 495.5h3M222 495.5h3M228 495.5h3M234 495.5h3M240 495.5h3M246 495.5h3M252 495.5h3M258 495.5h3M264 495.5h3M270 495.5h3M276 495.5h3M282 495.5h3M288 495.5h3M294 495.5h3M300 495.5h3M306 495.5h3M312 495.5h3M318 495.5h3M324 495.5h3M330 495.5h3M336 495.5h3M342 495.5h3M348 495.5h3M354 495.5h3M360 495.5h3M366 495.5h3M372 495.5h3M378 495.5h3M384 495.5h3M390 495.5h3M396 495.5h3M402 495.5h3M408 495.5h3M414 495.5h3M420 495.5h3M426 495.5h3M432 495.5h3M438 495.5h3M444 495.5h3M450 495.5h3M456 495.5h3M462 495.5h3M468 495.5h3M474 495.5h3M480 495.5h3M486 495.5h3M492 495.5h3M498 495.5h3M504 495.5h3M510 495.5h3M516 495.5h3M522 495.5h3M528 495.5h3M534 495.5h3M540 495.5h3M546 495.5h3M552 495.5h3M558 495.5h3M564 495.5h3M570 495.5h3M576 495.5h3M582 495.5h3M588 495.5h3M594 495.5h3M600 495.5h3M606 495.5h3M612 495.5h3M618 495.5h3M624 495.5h3M630 495.5h3M636 495.5h3M642 495.5h3M648 495.5h3M654 495.5h3M660 495.5h3M666 495.5h3M672 495.5h3M678 495.5h3M684 495.5h3M690 495.5h3M696 495.5h3M702 495.5h3M708 495.5h3M714 495.5h3M720 495.5h3M726 495.5h3M732 495.5h3M738 495.5h3M744 495.5h3M750 495.5h3M756 495.5h3M762 495.5h3M768 495.5h3M774 495.5h3M780 495.5h3M786 495.5h3M792 495.5h3M798 495.5h3M804 495.5h3M810 495.5h3M816 495.5h3M822 495.5h3M828 495.5h3M834 495.5h3M840 495.5h3M846 495.5h3M852 495.5h3M858 495.5h3M864 495.5h3M870 495.5h3M876 495.5h3M882 495.5h3M888 495.5h3M894 495.5h3M900 495.5h3M906 495.5h3M912 495.5h3M918 495.5h3M924 495.5h3M930 495.5h3M936 495.5h3M942 495.5h3M948 495.5h3M954 495.5h3M960 495.5h3M966 495.5h3M972 495.5h3M978 495.5h3M984 495.5h3M990 495.5h3M996 495.5h3M1002 495.5h3M1008 495.5h3M1014 495.5h3M1020 495.5h3M1026 495.5h3M1032 495.5h3M1038 495.5h3M1044 495.5h3M1050 495.5h3M1056 495.5h3M1062 495.5h3M1068 495.5h3M1074 495.5h3M1080 495.5h3M1086 495.5h3M1092 495.5h3M1098 495.5h3M1104 495.5h3M1110 495.5h3M1116 495.5h3M1122 495.5h3M1128 495.5h3M1134 495.5h3M1140 495.5h3M1146 495.5h3M1152 495.5h3M1158 495.5h3M1164 495.5h3M1170 495.5h3M1176 495.5h3M1182 495.5h3M1188 495.5h3M1194 495.5h3M1200 495.5h3M1206 495.5h3M1212 495.5h3M1218 495.5h3M1224 495.5h3M1230 495.5h3M1236 495.5h3M1242 495.5h3M1248 495.5h3M1254 495.5h3M1260 495.5h3M1266 495.5h3M1272 495.5h3M1278 495.5h3M1284 495.5h3M1290 495.5h3M1296 495.5h3M1302 495.5h3M1308 495.5h3M1314 495.5h3M1320 495.5h3M1326 495.5h3M1332 495.5h3M1338 495.5h3M1344 495.5h3M1350 495.5h3M1356 495.5h3M1362 495.5h3M1368 495.5h3M1374 495.5h3M1380 495.5h3M1386 495.5h3M1392 495.5h3M1398 495.5h3M1404 495.5h3M1410 495.5h3M1416 495.5h3M1422 495.5h3M1428 495.5h3M1434 495.5h3M1440 495.5h3M1446 495.5h3M1452 495.5h3M1458 495.5h3M1464 495.5h3M1470 495.5h3M1476 495.5h3M1482 495.5h3M1488 495.5h3M1494 495.5h3M1500 495.5h3M1506 495.5h3M1512 495.5h3M1518 495.5h3M1524 495.5h3M1530 495.5h3M1536 495.5h3M6 544.5h3M12 544.5h3M18 544.5h3M24 544.5h3M30 544.5h3M36 544.5h3M42 544.5h3M48 544.5h3M54 544.5h3M60 544.5h3M66 544.5h3M72 544.5h3M78 544.5h3M84 544.5h3M90 544.5h3M96 544.5h3M102 544.5h3M108 544.5h3M114 544.5h3M120 544.5h3M126 544.5h3M132 544.5h3M138 544.5h3M144 544.5h3M150 544.5h3M156 544.5h3M162 544.5h3M168 544.5h3M174 544.5h3M180 544.5h3M186 544.5h3M192 544.5h3M198 544.5h3M204 544.5h3M210 544.5h3M216 544.5h3M222 544.5h3M228 544.5h3M234 544.5h3M240 544.5h3M246 544.5h3M252 544.5h3M258 544.5h3M264 544.5h3M270 544.5h3M276 544.5h3M282 544.5h3M288 544.5h3M294 544.5h3M300 544.5h3M306 544.5h3M312 544.5h3M318 544.5h3M324 544.5h3M330 544.5h3M336 544.5h3M342 544.5h3M348 544.5h3M354 544.5h3M360 544.5h3M366 544.5h3M372 544.5h3M378 544.5h3M384 544.5h3M390 544.5h3M396 544.5h3M402 544.5h3M408 544.5h3M414 544.5h3M420 544.5h3M426 544.5h3M432 544.5h3M438 544.5h3M444 544.5h3M450 544.5h3M456 544.5h3M462 544.5h3M468 544.5h3M474 544.5h3M480 544.5h3M486 544.5h3M492 544.5h3M498 544.5h3M504 544.5h3M510 544.5h3M516 544.5h3M522 544.5h3M528 544.5h3M534 544.5h3M540 544.5h3M546 544.5h3M552 544.5h3M558 544.5h3M564 544.5h3M570 544.5h3M576 544.5h3M582 544.5h3M588 544.5h3M594 544.5h3M600 544.5h3M606 544.5h3M612 544.5h3M618 544.5h3M624 544.5h3M630 544.5h3M636 544.5h3M642 544.5h3M648 544.5h3M654 544.5h3M660 544.5h3M666 544.5h3M672 544.5h3M678 544.5h3M684 544.5h3M690 544.5h3M696 544.5h3M702 544.5h3M708 544.5h3M714 544.5h3M720 544.5h3M726 544.5h3M732 544.5h3M738 544.5h3M744 544.5h3M750 544.5h3M756 544.5h3M762 544.5h3M768 544.5h3M774 544.5h3M780 544.5h3M786 544.5h3M792 544.5h3M798 544.5h3M804 544.5h3M810 544.5h3M816 544.5h3M822 544.5h3M828 544.5h3M834 544.5h3M840 544.5h3M846 544.5h3M852 544.5h3M858 544.5h3M864 544.5h3M870 544.5h3M876 544.5h3M882 544.5h3M888 544.5h3M894 544.5h3M900 544.5h3M906 544.5h3M912 544.5h3M918 544.5h3M924 544.5h3M930 544.5h3M936 544.5h3M942 544.5h3M948 544.5h3M954 544.5h3M960 544.5h3M966 544.5h3M972 544.5h3M978 544.5h3M984 544.5h3M990 544.5h3M996 544.5h3M1002 544.5h3M1008 544.5h3M1014 544.5h3M1020 544.5h3M1026 544.5h3M1032 544.5h3M1038 544.5h3M1044 544.5h3M1050 544.5h3M1056 544.5h3M1062 544.5h3M1068 544.5h3M1074 544.5h3M1080 544.5h3M1086 544.5h3M1092 544.5h3M1098 544.5h3M1104 544.5h3M1110 544.5h3M1116 544.5h3M1122 544.5h3M1128 544.5h3M1134 544.5h3M1140 544.5h3M1146 544.5h3M1152 544.5h3M1158 544.5h3M1164 544.5h3M1170 544.5h3M1176 544.5h3M1182 544.5h3M1188 544.5h3M1194 544.5h3M1200 544.5h3M1206 544.5h3M1212 544.5h3M1218 544.5h3M1224 544.5h3M1230 544.5h3M1236 544.5h3M1242 544.5h3M1248 544.5h3M1254 544.5h3M1260 544.5h3M1266 544.5h3M1272 544.5h3M1278 544.5h3M1284 544.5h3M1290 544.5h3M1296 544.5h3M1302 544.5h3M1308 544.5h3M1314 544.5h3M1320 544.5h3M1326 544.5h3M1332 544.5h3M1338 544.5h3M1344 544.5h3M1350 544.5h3M1356 544.5h3M1362 544.5h3M1368 544.5h3M1374 544.5h3M1380 544.5h3M1386 544.5h3M1392 544.5h3M1398 544.5h3M1404 544.5h3M1410 544.5h3M1416 544.5h3M1422 544.5h3M1428 544.5h3M1434 544.5h3M1440 544.5h3M1446 544.5h3M1452 544.5h3M1458 544.5h3M1464 544.5h3M1470 544.5h3M1476 544.5h3M1482 544.5h3M1488 544.5h3M1494 544.5h3M1500 544.5h3M1506 544.5h3M1512 544.5h3M1518 544.5h3M1524 544.5h3M1530 544.5h3M1536 544.5h3M6 628.5h3M12 628.5h3M18 628.5h3M24 628.5h3M30 628.5h3M36 628.5h3M42 628.5h3M48 628.5h3M54 628.5h3M60 628.5h3M66 628.5h3M72 628.5h3M78 628.5h3M84 628.5h3M90 628.5h3M96 628.5h3M102 628.5h3M108 628.5h3M114 628.5h3M120 628.5h3M126 628.5h3M132 628.5h3M138 628.5h3M144 628.5h3M150 628.5h3M156 628.5h3M162 628.5h3M168 628.5h3M174 628.5h3M180 628.5h3M186 628.5h3M192 628.5h3M198 628.5h3M204 628.5h3M210 628.5h3M216 628.5h3M222 628.5h3M228 628.5h3M234 628.5h3M240 628.5h3M246 628.5h3M252 628.5h3M258 628.5h3M264 628.5h3M270 628.5h3M276 628.5h3M282 628.5h3M288 628.5h3M294 628.5h3M300 628.5h3M306 628.5h3M312 628.5h3M318 628.5h3M324 628.5h3M330 628.5h3M336 628.5h3M342 628.5h3M348 628.5h3M354 628.5h3M360 628.5h3M366 628.5h3M372 628.5h3M378 628.5h3M384 628.5h3M390 628.5h3M396 628.5h3M402 628.5h3M408 628.5h3M414 628.5h3M420 628.5h3M426 628.5h3M432 628.5h3M438 628.5h3M444 628.5h3M450 628.5h3M456 628.5h3M462 628.5h3M468 628.5h3M474 628.5h3M480 628.5h3M486 628.5h3M492 628.5h3M498 628.5h3M504 628.5h3M510 628.5h3M516 628.5h3M522 628.5h3M528 628.5h3M534 628.5h3M540 628.5h3M546 628.5h3M552 628.5h3M558 628.5h3M564 628.5h3M570 628.5h3M576 628.5h3M582 628.5h3M588 628.5h3M594 628.5h3M600 628.5h3M606 628.5h3M612 628.5h3M618 628.5h3M624 628.5h3M630 628.5h3M636 628.5h3M642 628.5h3M648 628.5h3M654 628.5h3M660 628.5h3M666 628.5h3M672 628.5h3M678 628.5h3M684 628.5h3M690 628.5h3M696 628.5h3M702 628.5h3M708 628.5h3M714 628.5h3M720 628.5h3M726 628.5h3M732 628.5h3M738 628.5h3M744 628.5h3M750 628.5h3M756 628.5h3M762 628.5h3M768 628.5h3M774 628.5h3M780 628.5h3M786 628.5h3M792 628.5h3M798 628.5h3M804 628.5h3M810 628.5h3M816 628.5h3M822 628.5h3M828 628.5h3M834 628.5h3M840 628.5h3M846 628.5h3M852 628.5h3M858 628.5h3M864 628.5h3M870 628.5h3M876 628.5h3M882 628.5h3M888 628.5h3M894 628.5h3M900 628.5h3M906 628.5h3M912 628.5h3M918 628.5h3M924 628.5h3M930 628.5h3M936 628.5h3M942 628.5h3M948 628.5h3M954 628.5h3M960 628.5h3M966 628.5h3M972 628.5h3M978 628.5h3M984 628.5h3M990 628.5h3M996 628.5h3M1002 628.5h3M1008 628.5h3M1014 628.5h3M1020 628.5h3M1026 628.5h3M1032 628.5h3M1038 628.5h3M1044 628.5h3M1050 628.5h3M1056 628.5h3M1062 628.5h3M1068 628.5h3M1074 628.5h3M1080 628.5h3M1086 628.5h3M1092 628.5h3M1098 628.5h3M1104 628.5h3M1110 628.5h3M1116 628.5h3M1122 628.5h3M1128 628.5h3M1134 628.5h3M1140 628.5h3M1146 628.5h3M1152 628.5h3M1158 628.5h3M1164 628.5h3M1170 628.5h3M1176 628.5h3M1182 628.5h3M1188 628.5h3M1194 628.5h3M1200 628.5h3M1206 628.5h3M1212 628.5h3M1218 628.5h3M1224 628.5h3M1230 628.5h3M1236 628.5h3M1242 628.5h3M1248 628.5h3M1254 628.5h3M1260 628.5h3M1266 628.5h3M1272 628.5h3M1278 628.5h3M1284 628.5h3M1290 628.5h3M1296 628.5h3M1302 628.5h3M1308 628.5h3M1314 628.5h3M1320 628.5h3M1326 628.5h3M1332 628.5h3M1338 628.5h3M1344 628.5h3M1350 628.5h3M1356 628.5h3M1362 628.5h3M1368 628.5h3M1374 628.5h3M1380 628.5h3M1386 628.5h3M1392 628.5h3M1398 628.5h3M1404 628.5h3M1410 628.5h3M1416 628.5h3M1422 628.5h3M1428 628.5h3M1434 628.5h3M1440 628.5h3M1446 628.5h3M1452 628.5h3M1458 628.5h3M1464 628.5h3M1470 628.5h3M1476 628.5h3M1482 628.5h3M1488 628.5h3M1494 628.5h3M1500 628.5h3M1506 628.5h3M1512 628.5h3M1518 628.5h3M1524 628.5h3M1530 628.5h3M1536 628.5h3" stroke="#778899" stroke-width="1" fill="none"/>
<rect x="5" y="372" width="1537" height="1" fill="#778899"/>
<rect x="1228" y="5" width="11" height="1" fill="#778899"/><rect x="1229" y="6" width="9" height="1" fill="#778899"/><rect x="1230" y="7" width="7" height="1" fill="#778899"/><rect x="1231" y="8" width="5" height="1" fill="#778899"/><rect x="1232" y="9" width="3" height="1" fill="#778899"/><rect x="1233" y="10" width="1" height="1" fill="#778899"/>
<rect x="5" y="92" width="1" height="13" fill="#000"/><rect x="5" y="99" width="3" height="5" fill="#000"/><rect x="5" y="100" width="2" height="3" fill="#00ff00"/><rect x="13" y="102" width="1" height="10" fill="#000"/><rect x="11" y="103" width="5" height="8" fill="#000"/><rect x="12" y="104" width="3" height="6" fill="#00ff00"/><rect x="21" y="74" width="1" height="31" fill="#000"/><rect x="19" y="77" width="5" height="25" fill="#000"/><rect x="20" y="78" width="3" height="23" fill="#ff0000"/><rect x="29" y="61" width="1" height="18" fill="#000"/><rect x="27" y="68" width="5" height="10" fill="#000"/><rect x="28" y="69" width="3" height="8" fill="#ff0000"/><rect x="37" y="61" width="1" height="10" fill="#000"/><rect x="35" y="61" width="5" height="9" fill="#000"/><rect x="36" y="62" width="3" height="7" fill="#ff0000"/><rect x="45" y="55" width="1" height="9" fill="#000"/><rect x="43" y="61" width="5" height="1" fill="#000"/><rect x="53" y="40" width="1" height="19" fill="#000"/><rect x="51" y="47" width="5" height="12" fill="#000"/><rect x="52" y="48" width="3" height="10" fill="#ff0000"/><rect x="61" y="32" width="1" height="18" fill="#000"/><rect x="59" y="38" width="5" height="10" fill="#000"/><rect x="60" y="39" width="3" height="8" fill="#ff0000"/><rect x="69" y="36" width="1" height="10" fill="#000"/><rect x="67" y="39" width="5" height="5" fill="#000"/><rect x="68" y="40" width="3" height="3" fill="#00ff00"/><rect x="77" y="40" width="1" height="14" fill="#000"/><rect x="75" y="44" width="5" height="9" fill="#000"/><rect x="76" y="45" width="3" height="7" fill="#00ff00"/><rect x="85" y="63" width="1" height="23" fill="#000"/><rect x="83" y="71" width="5" height="12" fill="#000"/><rect x="84" y="72" width="3" height="10" fill="#ff0000"/><rect x="93" y="70" width="1" height="21" fill="#000"/><rect x="91" y="72" width="5" height="18" fill="#000"/><rect x="92" y="73" width="3" height="16" fill="#00ff00"/><rect x="101" y="84" width="1" height="14" fill="#000"/><rect x="99" y="87" width="5" height="3" fill="#000"/><rect x="100" y="88" width="3" height="1" fill="#ff0000"/><rect x="109" y="81" width="1" height="9" fill="#000"/><rect x="107" y="85" width="5" height="3" fill="#000"/><rect x="108" y="86" width="3" height="1" fill="#ff0000"/><rect x="117" y="71" width="1" height="26" fill="#000"/><rect x="115" y="80" width="5" height="11" fill="#000"/><rect x="116" y="81" width="3" height="9" fill="#00ff00"/><rect x="125" y="87" width="1" height="23" fill="#000"/><rect x="123" y="90" width="5" height="19" fill="#000"/><rect x="124" y="91" width="3" height="17" fill="#00ff00"/><rect x="133" y="105" width="1" height="26" fill="#000"/><rect x="131" y="109" width="5" height="20" fill="#000"/><rect x="132" y="110" width="3" height="18" fill="#00ff00"/><rect x="141" y="114" width="1" height="24" fill="#000"/><rect x="139" y="117" width="5" height="12" fill="#000"/><rect x="140" y="118" width="3" height="10" fill="#ff0000"/><rect x="149" y="119" width="1" height="35" fill="#000"/><rect x="147" y="125" width="5" height="29" fill="#000"/><rect x="148" y="126" width="3" height="27" fill="#00ff00"/><rect x="157" y="148" width="1" height="23" fill="#000"/><rect x="155" y="154" width="5" height="1" fill="#000"/><rect x="165" y="152" width="1" height="22" fill="#000"/><rect x="163" y="154" width="5" height="19" fill="#000"/><rect x="164" y="155" width="3" height="17" fill="#00ff00"/><rect x="173" y="171" width="1" height="25" fill="#000"/><rect x="171" y="172" width="5" height="21" fill="#000"/><rect x="172" y="173" width="3" height="19" fill="#00ff00"/><rect x="181" y="181" width="1" height="25" fill="#000"/><rect x="179" y="196" width="5" height="7" fill="#000"/><rect x="180" y="197" width="3" height="5" fill="#00ff00"/><rect x="189" y="178" width="1" height="25" fill="#000"/><rect x="187" y="188" width="5" height="15" fill="#000"/><rect x="188" y="189" width="3" height="13" fill="#ff0000"/><rect x="197" y="187" width="1" height="22" fill="#000"/><rect x="195" y="189" width="5" height="17" fill="#000"/><rect x="196" y="190" width="3" height="15" fill="#00ff00"/><rect x="205" y="192" width="1" height="20" fill="#000"/><rect x="203" y="198" width="5" height="9" fill="#000"/><rect x="204" y="199" width="3" height="7" fill="#ff0000"/><rect x="213" y="175" width="1" height="21" fill="#000"/><rect x="211" y="177" width="5" height="5" fill="#000"/><rect x="212" y="178" width="3" height="3" fill="#ff0000"/><rect x="221" y="171" width="1" height="19" fill="#000"/><rect x="219" y="177" width="5" height="12" fill="#000"/><rect x="220" y="178" width="3" height="10" fill="#00ff00"/><rect x="229" y="186" width="1" height="15" fill="#000"/><rect x="227" y="188" width="5" height="7" fill="#000"/><rect x="228" y="189" width="3" height="5" fill="#00ff00"/><rect x="237" y="194" width="1" height="13" fill="#000"/><rect x="235" y="195" width="5" height="5" fill="#000"/><rect x="236" y="196" width="3" height="3" fill="#00ff00"/><rect x="245" y="204" width="1" height="33" fill="#000"/><rect x="243" y="204" width="5" height="20" fill="#000"/><rect x="244" y="205" width="3" height="18" fill="#00ff00"/><rect x="253" y="210" width="1" height="22" fill="#000"/><rect x="251" y="223" width="5" height="6" fill="#000"/><rect x="252" y="224" width="3" height="4" fill="#00ff00"/><rect x="261" y="198" width="1" height="32" fill="#000"/><rect x="259" y="206" width="5" height="21" fill="#000"/><rect x="260" y="207" width="3" height="19" fill="#ff0000"/><rect x="269" y="200" width="1" height="26" fill="#000"/><rect x="267" y="206" width="5" height="19" fill="#000"/><rect x="268" y="207" width="3" height="17" fill="#00ff00"/><rect x="277" y="220" width="1" height="38" fill="#000"/><rect x="275" y="238" width="5" height="7" fill="#000"/><rect x="276" y="239" width="3" height="5" fill="#00ff00"/><rect x="285" y="231" width="1" height="19" fill="#000"/><rect x="283" y="244" width="5" height="2" fill="#000"/><rect x="293" y="238" width="1" height="16" fill="#000"/><rect x="291" y="245" width="5" height="6" fill="#000"/><rect x="292" y="246" width="3" height="4" fill="#00ff00"/><rect x="301" y="237" width="1" height="14" fill="#000"/><rect x="299" y="245" width="5" height="6" fill="#000"/><rect x="300" y="246" width="3" height="4" fill="#ff0000"/><rect x="309" y="229" width="1" height="36" fill="#000"/><rect x="307" y="248" width="5" height="12" fill="#000"/><rect x="308" y="249" width="3" height="10" fill="#00ff00"/><rect x="317" y="251" width="1" height="29" fill="#000"/><rect x="315" y="259" width="5" height="17" fill="#000"/><rect x="316" y="260" width="3" height="15" fill="#00ff00"/><rect x="325" y="228" width="1" height="50" fill="#000"/><rect x="323" y="254" width="5" height="22" fill="#000"/><rect x="324" y="255" width="3" height="20" fill="#ff0000"/><rect x="333" y="236" width="1" height="25" fill="#000"/><rect x="331" y="252" width="5" height="5" fill="#000"/><rect x="332" y="253" width="3" height="3" fill="#ff0000"/><rect x="341" y="228" width="1" height="43" fill="#000"/><rect x="339" y="229" width="5" height="40" fill="#000"/><rect x="340" y="230" width="3" height="38" fill="#ff0000"/><rect x="349" y="219" width="1" height="21" fill="#000"/><rect x="347" y="229" width="5" height="9" fill="#000"/><rect x="348" y="230" width="3" height="7" fill="#00ff00"/><rect x="357" y="233" width="1" height="15" fill="#000"/><rect x="355" y="237" width="5" height="11" fill="#000"/><rect x="356" y="238" width="3" height="9" fill="#00ff00"/><rect x="365" y="244" width="1" height="31" fill="#000"/><rect x="363" y="247" width="5" height="23" fill="#000"/><rect x="364" y="248" width="3" height="21" fill="#00ff00"/><rect x="373" y="251" width="1" height="24" fill="#000"/><rect x="371" y="259" width="5" height="8" fill="#000"/><rect x="372" y="260" width="3" height="6" fill="#00ff00"/><rect x="381" y="259" width="1" height="14" fill="#000"/><rect x="379" y="260" width="5" height="7" fill="#000"/><rect x="380" y="261" width="3" height="5" fill="#ff0000"/><rect x="389" y="237" width="1" height="28" fill="#000"/><rect x="387" y="239" width="5" height="23" fill="#000"/><rect x="388" y="240" width="3" height="21" fill="#ff0000"/><rect x="397" y="221" width="1" height="27" fill="#000"/><rect x="395" y="228" width="5" height="12" fill="#000"/><rect x="396" y="229" width="3" height="10" fill="#ff0000"/><rect x="405" y="237" width="1" height="23" fill="#000"/><rect x="403" y="237" width="5" height="18" fill="#000"/><rect x="404" y="238" width="3" height="16" fill="#00ff00"/><rect x="413" y="245" width="1" height="19" fill="#000"/><rect x="411" y="252" width="5" height="3" fill="#000"/><rect x="412" y="253" width="3" height="1" fill="#ff0000"/><rect x="421" y="252" width="1" height="23" fill="#000"/><rect x="419" y="252" width="5" height="8" fill="#000"/><rect x="420" y="253" width="3" height="6" fill="#00ff00"/><rect x="429" y="253" width="1" height="24" fill="#000"/><rect x="427" y="260" width="5" height="13" fill="#000"/><rect x="428" y="261" width="3" height="11" fill="#00ff00"/><rect x="437" y="235" width="1" height="20" fill="#000"/><rect x="435" y="247" width="5" height="5" fill="#000"/><rect x="436" y="248" width="3" height="3" fill="#00ff00"/><rect x="445" y="248" width="1" height="16" fill="#000"/><rect x="443" y="251" width="5" height="11" fill="#000"/><rect x="444" y="252" width="3" height="9" fill="#00ff00"/><rect x="453" y="252" width="1" height="26" fill="#000"/><rect x="451" y="260" width="5" height="14" fill="#000"/><rect x="452" y="261" width="3" height="12" fill="#00ff00"/><rect x="461" y="263" width="1" height="29" fill="#000"/><rect x="459" y="271" width="5" height="3" fill="#000"/><rect x="460" y="272" width="3" height="1" fill="#ff0000"/><rect x="469" y="253" width="1" height="42" fill="#000"/><rect x="467" y="262" width="5" height="21" fill="#000"/><rect x="468" y="263" width="3" height="19" fill="#00ff00"/><rect x="477" y="264" width="1" height="29" fill="#000"/><rect x="475" y="281" width="5" height="3" fill="#000"/><rect x="476" y="282" width="3" height="1" fill="#ff0000"/><rect x="485" y="266" width="1" height="22" fill="#000"/><rect x="483" y="280" width="5" height="2" fill="#000"/><rect x="493" y="278" width="1" height="20" fill="#000"/><rect x="491" y="280" width="5" height="16" fill="#000"/><rect x="492" y="281" width="3" height="14" fill="#00ff00"/><rect x="501" y="291" width="1" height="39" fill="#000"/><rect x="499" y="292" width="5" height="33" fill="#000"/><rect x="500" y="293" width="3" height="31" fill="#00ff00"/><rect x="509" y="318" width="1" height="17" fill="#000"/><rect x="507" y="324" width="5" height="1" fill="#000"/><rect x="517" y="320" width="1" height="28" fill="#000"/><rect x="515" y="325" width="5" height="20" fill="#000"/><rect x="516" y="326" width="3" height="18" fill="#00ff00"/><rect x="525" y="338" width="1" height="34" fill="#000"/><rect x="523" y="345" width="5" height="16" fill="#000"/><rect x="524" y="346" width="3" height="14" fill="#00ff00"/><rect x="533" y="351" width="1" height="22" fill="#000"/><rect x="531" y="353" width="5" height="17" fill="#000"/><rect x="532" y="354" width="3" height="15" fill="#00ff00"/><rect x="541" y="346" width="1" height="24" fill="#000"/><rect x="539" y="347" width="5" height="22" fill="#000"/><rect x="540" y="348" width="3" height="20" fill="#ff0000"/><rect x="549" y="347" width="1" height="18" fill="#000"/><rect x="547" y="347" width="5" height="5" fill="#000"/><rect x="548" y="348" width="3" height="3" fill="#00ff00"/><rect x="557" y="351" width="1" height="11" fill="#000"/><rect x="555" y="351" width="5" height="10" fill="#000"/><rect x="556" y="352" width="3" height="8" fill="#00ff00"/><rect x="565" y="361" width="1" height="47" fill="#000"/><rect x="563" y="362" width="5" height="30" fill="#000"/><rect x="564" y="363" width="3" height="28" fill="#00ff00"/><rect x="573" y="382" width="1" height="26" fill="#000"/><rect x="571" y="391" width="5" height="13" fill="#000"/><rect x="572" y="392" width="3" height="11" fill="#00ff00"/><rect x="581" y="343" width="1" height="75" fill="#000"/><rect x="579" y="351" width="5" height="52" fill="#000"/><rect x="580" y="352" width="3" height="50" fill="#ff0000"/><rect x="589" y="313" width="1" height="47" fill="#000"/><rect x="587" y="314" width="5" height="37" fill="#000"/><rect x="588" y="315" width="3" height="35" fill="#ff0000"/><rect x="597" y="321" width="1" height="25" fill="#000"/><rect x="595" y="333" width="5" height="6" fill="#000"/><rect x="596" y="334" width="3" height="4" fill="#00ff00"/><rect x="605" y="323" width="1" height="23" fill="#000"/><rect x="603" y="326" width="5" height="13" fill="#000"/><rect x="604" y="327" width="3" height="11" fill="#ff0000"/><rect x="613" y="311" width="1" height="29" fill="#000"/><rect x="611" y="326" width="5" height="4" fill="#000"/><rect x="612" y="327" width="3" height="2" fill="#00ff00"/><rect x="621" y="326" width="1" height="18" fill="#000"/><rect x="619" y="329" width="5" height="10" fill="#000"/><rect x="620" y="330" width="3" height="8" fill="#00ff00"/><rect x="629" y="276" width="1" height="38" fill="#000"/><rect x="627" y="286" width="5" height="28" fill="#000"/><rect x="628" y="287" width="3" height="26" fill="#ff0000"/><rect x="637" y="263" width="1" height="25" fill="#000"/><rect x="635" y="276" width="5" height="11" fill="#000"/><rect x="636" y="277" width="3" height="9" fill="#ff0000"/><rect x="645" y="249" width="1" height="28" fill="#000"/><rect x="643" y="267" width="5" height="10" fill="#000"/><rect x="644" y="268" width="3" height="8" fill="#ff0000"/><rect x="653" y="257" width="1" height="14" fill="#000"/><rect x="651" y="268" width="5" height="2" fill="#000"/><rect x="661" y="274" width="1" height="22" fill="#000"/><rect x="659" y="276" width="5" height="14" fill="#000"/><rect x="660" y="277" width="3" height="12" fill="#00ff00"/><rect x="669" y="280" width="1" height="13" fill="#000"/><rect x="667" y="281" width="5" height="9" fill="#000"/><rect x="668" y="282" width="3" height="7" fill="#ff0000"/><rect x="677" y="268" width="1" height="19" fill="#000"/><rect x="675" y="271" width="5" height="12" fill="#000"/><rect x="676" y="272" width="3" height="10" fill="#ff0000"/><rect x="685" y="265" width="1" height="13" fill="#000"/><rect x="683" y="270" width="5" height="2" fill="#000"/><rect x="693" y="245" width="1" height="35" fill="#000"/><rect x="691" y="253" width="5" height="19" fill="#000"/><rect x="692" y="254" width="3" height="17" fill="#00ff00"/><rect x="701" y="262" width="1" height="20" fill="#000"/><rect x="699" y="267" width="5" height="4" fill="#000"/><rect x="700" y="268" width="3" height="2" fill="#ff0000"/><rect x="709" y="249" width="1" height="29" fill="#000"/><rect x="707" y="259" width="5" height="18" fill="#000"/><rect x="708" y="260" width="3" height="16" fill="#00ff00"/><rect x="717" y="271" width="1" height="12" fill="#000"/><rect x="715" y="274" width="5" height="2" fill="#000"/><rect x="725" y="267" width="1" height="30" fill="#000"/><rect x="723" y="280" width="5" height="8" fill="#000"/><rect x="724" y="281" width="3" height="6" fill="#00ff00"/><rect x="733" y="286" width="1" height="14" fill="#000"/><rect x="731" y="287" width="5" height="13" fill="#000"/><rect x="732" y="288" width="3" height="11" fill="#00ff00"/><rect x="741" y="299" width="1" height="25" fill="#000"/><rect x="739" y="299" width="5" height="18" fill="#000"/><rect x="740" y="300" width="3" height="16" fill="#00ff00"/><rect x="749" y="310" width="1" height="15" fill="#000"/><rect x="747" y="316" width="5" height="7" fill="#000"/><rect x="748" y="317" width="3" height="5" fill="#00ff00"/><rect x="757" y="340" width="1" height="24" fill="#000"/><rect x="755" y="342" width="5" height="7" fill="#000"/><rect x="756" y="343" width="3" height="5" fill="#00ff00"/><rect x="765" y="332" width="1" height="22" fill="#000"/><rect x="763" y="348" width="5" height="1" fill="#000"/><rect x="773" y="296" width="1" height="45" fill="#000"/><rect x="771" y="332" width="5" height="2" fill="#000"/><rect x="781" y="330" width="1" height="19" fill="#000"/><rect x="779" y="331" width="5" height="8" fill="#000"/><rect x="780" y="332" width="3" height="6" fill="#00ff00"/><rect x="789" y="330" width="1" height="24" fill="#000"/><rect x="787" y="336" width="5" height="7" fill="#000"/><rect x="788" y="337" width="3" height="5" fill="#00ff00"/><rect x="797" y="326" width="1" height="19" fill="#000"/><rect x="795" y="336" width="5" height="7" fill="#000"/><rect x="796" y="337" width="3" height="5" fill="#ff0000"/><rect x="805" y="333" width="1" height="23" fill="#000"/><rect x="803" y="339" width="5" height="15" fill="#000"/><rect x="804" y="340" width="3" height="13" fill="#00ff00"/><rect x="813" y="347" width="1" height="23" fill="#000"/><rect x="811" y="353" width="5" height="3" fill="#000"/><rect x="812" y="354" width="3" height="1" fill="#00ff00"/><rect x="821" y="324" width="1" height="91" fill="#000"/><rect x="819" y="364" width="5" height="31" fill="#000"/><rect x="820" y="365" width="3" height="29" fill="#00ff00"/><rect x="829" y="388" width="1" height="32" fill="#000"/><rect x="827" y="394" width="5" height="15" fill="#000"/><rect x="828" y="395" width="3" height="13" fill="#00ff00"/><rect x="837" y="405" width="1" height="34" fill="#000"/><rect x="835" y="407" width="5" height="30" fill="#000"/><rect x="836" y="408" width="3" height="28" fill="#00ff00"/><rect x="845" y="427" width="1" height="33" fill="#000"/><rect x="843" y="437" width="5" height="1" fill="#000"/><rect x="853" y="420" width="1" height="44" fill="#000"/><rect x="851" y="436" width="5" height="8" fill="#000"/><rect x="852" y="437" width="3" height="6" fill="#00ff00"/><rect x="861" y="396" width="1" height="68" fill="#000"/><rect x="859" y="403" width="5" height="40" fill="#000"/><rect x="860" y="404" width="3" height="38" fill="#ff0000"/><rect x="869" y="403" width="1" height="38" fill="#000"/><rect x="867" y="407" width="5" height="25" fill="#000"/><rect x="868" y="408" width="3" height="23" fill="#00ff00"/><rect x="877" y="424" width="1" height="21" fill="#000"/><rect x="875" y="432" width="5" height="10" fill="#000"/><rect x="876" y="433" width="3" height="8" fill="#00ff00"/><rect x="885" y="389" width="1" height="47" fill="#000"/><rect x="883" y="390" width="5" height="46" fill="#000"/><rect x="884" y="391" width="3" height="44" fill="#ff0000"/><rect x="893" y="372" width="1" height="25" fill="#000"/><rect x="891" y="385" width="5" height="6" fill="#000"/><rect x="892" y="386" width="3" height="4" fill="#ff0000"/><rect x="901" y="387" width="1" height="39" fill="#000"/><rect x="899" y="387" width="5" height="38" fill="#000"/><rect x="900" y="388" width="3" height="36" fill="#00ff00"/><rect x="909" y="417" width="1" height="14" fill="#000"/><rect x="907" y="417" width="5" height="8" fill="#000"/><rect x="908" y="418" width="3" height="6" fill="#ff0000"/><rect x="917" y="385" width="1" height="26" fill="#000"/><rect x="915" y="398" width="5" height="8" fill="#000"/><rect x="916" y="399" width="3" height="6" fill="#00ff00"/><rect x="925" y="396" width="1" height="24" fill="#000"/><rect x="923" y="405" width="5" height="8" fill="#000"/><rect x="924" y="406" width="3" height="6" fill="#00ff00"/><rect x="933" y="403" width="1" height="30" fill="#000"/><rect x="931" y="411" width="5" height="1" fill="#000"/><rect x="941" y="411" width="1" height="27" fill="#000"/><rect x="939" y="411" width="5" height="26" fill="#000"/><rect x="940" y="412" width="3" height="24" fill="#00ff00"/><rect x="949" y="441" width="1" height="26" fill="#000"/><rect x="947" y="442" width="5" height="21" fill="#000"/><rect x="948" y="443" width="3" height="19" fill="#00ff00"/><rect x="957" y="447" width="1" height="26" fill="#000"/><rect x="955" y="462" width="5" height="1" fill="#000"/><rect x="965" y="465" width="1" height="36" fill="#000"/><rect x="963" y="465" width="5" height="28" fill="#000"/><rect x="964" y="466" width="3" height="26" fill="#00ff00"/><rect x="973" y="482" width="1" height="34" fill="#000"/><rect x="971" y="493" width="5" height="16" fill="#000"/><rect x="972" y="494" width="3" height="14" fill="#00ff00"/><rect x="981" y="508" width="1" height="42" fill="#000"/><rect x="979" y="535" width="5" height="2" fill="#000"/><rect x="989" y="494" width="1" height="45" fill="#000"/><rect x="987" y="513" width="5" height="24" fill="#000"/><rect x="988" y="514" width="3" height="22" fill="#ff0000"/><rect x="997" y="504" width="1" height="39" fill="#000"/><rect x="995" y="514" width="5" height="23" fill="#000"/><rect x="996" y="515" width="3" height="21" fill="#00ff00"/><rect x="1005" y="531" width="1" height="15" fill="#000"/><rect x="1003" y="535" width="5" height="5" fill="#000"/><rect x="1004" y="536" width="3" height="3" fill="#00ff00"/><rect x="1013" y="470" width="1" height="55" fill="#000"/><rect x="1011" y="470" width="5" height="49" fill="#000"/><rect x="1012" y="471" width="3" height="47" fill="#ff0000"/><rect x="1021" y="456" width="1" height="36" fill="#000"/><rect x="1019" y="471" width="5" height="20" fill="#000"/><rect x="1020" y="472" width="3" height="18" fill="#00ff00"/><rect x="1029" y="462" width="1" height="33" fill="#000"/><rect x="1027" y="470" width="5" height="22" fill="#000"/><rect x="1028" y="471" width="3" height="20" fill="#ff0000"/><rect x="1037" y="423" width="1" height="48" fill="#000"/><rect x="1035" y="424" width="5" height="47" fill="#000"/><rect x="1036" y="425" width="3" height="45" fill="#ff0000"/><rect x="1045" y="419" width="1" height="24" fill="#000"/><rect x="1043" y="421" width="5" height="17" fill="#000"/><rect x="1044" y="422" width="3" height="15" fill="#ff0000"/><rect x="1053" y="402" width="1" height="25" fill="#000"/><rect x="1051" y="408" width="5" height="14" fill="#000"/><rect x="1052" y="409" width="3" height="12" fill="#ff0000"/><rect x="1061" y="372" width="1" height="41" fill="#000"/><rect x="1059" y="379" width="5" height="32" fill="#000"/><rect x="1060" y="380" width="3" height="30" fill="#ff0000"/><rect x="1069" y="378" width="1" height="27" fill="#000"/><rect x="1067" y="378" width="5" height="21" fill="#000"/><rect x="1068" y="379" width="3" height="19" fill="#00ff00"/><rect x="1077" y="402" width="1" height="23" fill="#000"/><rect x="1075" y="414" width="5" height="11" fill="#000"/><rect x="1076" y="415" width="3" height="9" fill="#00ff00"/><rect x="1085" y="411" width="1" height="25" fill="#000"/><rect x="1083" y="424" width="5" height="10" fill="#000"/><rect x="1084" y="425" width="3" height="8" fill="#00ff00"/><rect x="1093" y="419" width="1" height="18" fill="#000"/><rect x="1091" y="423" width="5" height="7" fill="#000"/><rect x="1092" y="424" width="3" height="5" fill="#ff0000"/><rect x="1101" y="412" width="1" height="19" fill="#000"/><rect x="1099" y="421" width="5" height="3" fill="#000"/><rect x="1100" y="422" width="3" height="1" fill="#ff0000"/><rect x="1109" y="358" width="1" height="63" fill="#000"/><rect x="1107" y="360" width="5" height="61" fill="#000"/><rect x="1108" y="361" width="3" height="59" fill="#ff0000"/><rect x="1117" y="332" width="1" height="38" fill="#000"/><rect x="1115" y="334" width="5" height="28" fill="#000"/><rect x="1116" y="335" width="3" height="26" fill="#ff0000"/><rect x="1125" y="303" width="1" height="28" fill="#000"/><rect x="1123" y="317" width="5" height="13" fill="#000"/><rect x="1124" y="318" width="3" height="11" fill="#ff0000"/><rect x="1133" y="311" width="1" height="11" fill="#000"/><rect x="1131" y="316" width="5" height="3" fill="#000"/><rect x="1132" y="317" width="3" height="1" fill="#ff0000"/><rect x="1141" y="300" width="1" height="37" fill="#000"/><rect x="1139" y="326" width="5" height="8" fill="#000"/><rect x="1140" y="327" width="3" height="6" fill="#ff0000"/><rect x="1149" y="300" width="1" height="32" fill="#000"/><rect x="1147" y="305" width="5" height="22" fill="#000"/><rect x="1148" y="306" width="3" height="20" fill="#ff0000"/><rect x="1157" y="318" width="1" height="10" fill="#000"/><rect x="1155" y="321" width="5" height="7" fill="#000"/><rect x="1156" y="322" width="3" height="5" fill="#00ff00"/><rect x="1165" y="313" width="1" height="16" fill="#000"/><rect x="1163" y="316" width="5" height="12" fill="#000"/><rect x="1164" y="317" width="3" height="10" fill="#ff0000"/><rect x="1173" y="310" width="1" height="34" fill="#000"/><rect x="1171" y="317" width="5" height="25" fill="#000"/><rect x="1172" y="318" width="3" height="23" fill="#00ff00"/><rect x="1181" y="332" width="1" height="12" fill="#000"/><rect x="1179" y="335" width="5" height="7" fill="#000"/><rect x="1180" y="336" width="3" height="5" fill="#ff0000"/><rect x="1189" y="336" width="1" height="19" fill="#000"/><rect x="1187" y="338" width="5" height="14" fill="#000"/><rect x="1188" y="339" width="3" height="12" fill="#00ff00"/><rect x="1197" y="332" width="1" height="23" fill="#000"/><rect x="1195" y="336" width="5" height="15" fill="#000"/><rect x="1196" y="337" width="3" height="13" fill="#ff0000"/><rect x="1205" y="324" width="1" height="32" fill="#000"/><rect x="1203" y="331" width="5" height="2" fill="#000"/><rect x="1213" y="332" width="1" height="34" fill="#000"/><rect x="1211" y="332" width="5" height="33" fill="#000"/><rect x="1212" y="333" width="3" height="31" fill="#00ff00"/><rect x="1221" y="358" width="1" height="15" fill="#000"/><rect x="1219" y="364" width="5" height="8" fill="#000"/><rect x="1220" y="365" width="3" height="6" fill="#00ff00"/><rect x="1229" y="360" width="1" height="13" fill="#000"/><rect x="1227" y="371" width="5" height="2" fill="#000"/>
<rect x="5" y="628" width="3" height="6" fill="#00ff00"/><rect x="11" y="628" width="5" height="7" fill="#00ff00"/><rect x="19" y="628" width="5" height="3" fill="#00ff00"/><rect x="27" y="625" width="5" height="4" fill="#00ff00"/><rect x="35" y="621" width="5" height="8" fill="#00ff00"/><rect x="43" y="617" width="5" height="12" fill="#00ff00"/><rect x="51" y="613" width="5" height="16" fill="#00ff00"/><rect x="59" y="608" width="5" height="21" fill="#00ff00"/><rect x="67" y="605" width="5" height="24" fill="#00ff00"/><rect x="75" y="605" width="5" height="24" fill="#00ff00"/><rect x="83" y="607" width="5" height="22" fill="#00ff00"/><rect x="91" y="611" width="5" height="18" fill="#00ff00"/><rect x="99" y="615" width="5" height="14" fill="#00ff00"/><rect x="107" y="618" width="5" height="11" fill="#00ff00"/><rect x="115" y="620" width="5" height="9" fill="#00ff00"/><rect x="123" y="625" width="5" height="4" fill="#00ff00"/><rect x="131" y="628" width="5" height="5" fill="#00ff00"/><rect x="139" y="628" width="5" height="8" fill="#00ff00"/><rect x="147" y="628" width="5" height="16" fill="#00ff00"/><rect x="155" y="628" width="5" height="22" fill="#00ff00"/><rect x="163" y="628" width="5" height="28" fill="#00ff00"/><rect x="171" y="628" width="5" height="36" fill="#00ff00"/><rect x="179" y="628" width="5" height="43" fill="#00ff00"/><rect x="187" y="628" width="5" height="46" fill="#00ff00"/><rect x="195" y="628" width="5" height="50" fill="#00ff00"/><rect x="203" y="628" width="5" height="52" fill="#00ff00"/><rect x="211" y="628" width="5" height="50" fill="#00ff00"/><rect x="219" y="628" width="5" height="49" fill="#00ff00"/><rect x="227" y="628" width="5" height="49" fill="#00ff00"/><rect x="235" y="628" width="5" height="49" fill="#00ff00"/><rect x="243" y="628" width="5" height="52" fill="#00ff00"/><rect x="251" y="628" width="5" height="54" fill="#00ff00"/><rect x="259" y="628" width="5" height="52" fill="#00ff00"/><rect x="267" y="628" width="5" height="52" fill="#00ff00"/><rect x="275" y="628" width="5" height="55" fill="#00ff00"/><rect x="283" y="628" width="5" height="56" fill="#00ff00"/><rect x="291" y="628" width="5" height="57" fill="#00ff00"/><rect x="299" y="628" width="5" height="57" fill="#00ff00"/><rect x="307" y="628" width="5" height="58" fill="#00ff00"/><rect x="315" y="628" width="5" height="60" fill="#00ff00"/><rect x="323" y="628" width="5" height="58" fill="#00ff00"/><rect x="331" y="628" width="5" height="58" fill="#00ff00"/><rect x="339" y="628" width="5" height="51" fill="#00ff00"/><rect x="347" y="628" width="5" height="47" fill="#00ff00"/><rect x="355" y="628" width="5" height="45" fill="#00ff00"/><rect x="363" y="628" width="5" height="45" fill="#00ff00"/><rect x="371" y="628" width="5" height="45" fill="#00ff00"/><rect x="379" y="628" width="5" height="43" fill="#00ff00"/><rect x="387" y="628" width="5" height="39" fill="#00ff00"/><rect x="395" y="628" width="5" height="33" fill="#00ff00"/><rect x="403" y="628" width="5" height="32" fill="#00ff00"/><rect x="411" y="628" width="5" height="31" fill="#00ff00"/><rect x="419" y="628" width="5" height="30" fill="#00ff00"/><rect x="427" y="628" width="5" height="31" fill="#00ff00"/><rect x="435" y="628" width="5" height="29" fill="#00ff00"/><rect x="443" y="628" width="5" height="28" fill="#00ff00"/><rect x="451" y="628" width="5" height="28" fill="#00ff00"/><rect x="459" y="628" width="5" height="28" fill="#00ff00"/><rect x="467" y="628" width="5" height="28" fill="#00ff00"/><rect x="475" y="628" width="5" height="28" fill="#00ff00"/><rect x="483" y="628" width="5" height="29" fill="#00ff00"/><rect x="491" y="628" width="5" height="31" fill="#00ff00"/><rect x="499" y="628" width="5" height="36" fill="#00ff00"/><rect x="507" y="628" width="5" height="39" fill="#00ff00"/><rect x="515" y="628" width="5" height="44" fill="#00ff00"/><rect x="523" y="628" width="5" height="50" fill="#00ff00"/><rect x="531" y="628" width="5" height="55" fill="#00ff00"/><rect x="539" y="628" width="5" height="55" fill="#00ff00"/><rect x="547" y="628" width="5" height="55" fill="#00ff00"/><rect x="555" y="628" width="5" height="56" fill="#00ff00"/><rect x="563" y="628" width="5" height="60" fill="#00ff00"/><rect x="571" y="628" width="5" height="64" fill="#00ff00"/><rect x="579" y="628" width="5" height="60" fill="#00ff00"/><rect x="587" y="628" width="5" height="51" fill="#00ff00"/><rect x="595" y="628" width="5" height="46" fill="#00ff00"/><rect x="603" y="628" width="5" height="40" fill="#00ff00"/><rect x="611" y="628" width="5" height="36" fill="#00ff00"/><rect x="619" y="628" width="5" height="33" fill="#00ff00"/><rect x="627" y="628" width="5" height="24" fill="#00ff00"/><rect x="635" y="628" width="5" height="14" fill="#00ff00"/><rect x="643" y="628" width="5" height="6" fill="#00ff00"/><rect x="651" y="626" width="5" height="3" fill="#00ff00"/><rect x="659" y="624" width="5" height="5" fill="#00ff00"/><rect x="667" y="621" width="5" height="8" fill="#00ff00"/><rect x="675" y="618" width="5" height="11" fill="#00ff00"/><rect x="683" y="615" width="5" height="14" fill="#00ff00"/><rect x="691" y="613" width="5" height="16" fill="#00ff00"/><rect x="699" y="611" width="5" height="18" fill="#00ff00"/><rect x="707" y="611" width="5" height="18" fill="#00ff00"/><rect x="715" y="611" width="5" height="18" fill="#00ff00"/><rect x="723" y="613" width="5" height="16" fill="#00ff00"/><rect x="731" y="615" width="5" height="14" fill="#00ff00"/><rect x="739" y="621" width="5" height="8" fill="#00ff00"/><rect x="747" y="626" width="5" height="3" fill="#00ff00"/><rect x="755" y="628" width="5" height="6" fill="#00ff00"/><rect x="763" y="628" width="5" height="12" fill="#00ff00"/><rect x="771" y="628" width="5" height="14" fill="#00ff00"/><rect x="779" y="628" width="5" height="16" fill="#00ff00"/><rect x="787" y="628" width="5" height="18" fill="#00ff00"/><rect x="795" y="628" width="5" height="19" fill="#00ff00"/><rect x="803" y="628" width="5" height="22" fill="#00ff00"/><rect x="811" y="628" width="5" height="24" fill="#00ff00"/><rect x="819" y="628" width="5" height="31" fill="#00ff00"/><rect x="827" y="628" width="5" height="37" fill="#00ff00"/><rect x="835" y="628" width="5" height="46" fill="#00ff00"/><rect x="843" y="628" width="5" height="53" fill="#00ff00"/><rect x="851" y="628" width="5" height="58" fill="#00ff00"/><rect x="859" y="628" width="5" height="56" fill="#00ff00"/><rect x="867" y="628" width="5" height="58" fill="#00ff00"/><rect x="875" y="628" width="5" height="60" fill="#00ff00"/><rect x="883" y="628" width="5" height="53" fill="#00ff00"/><rect x="891" y="628" width="5" height="47" fill="#00ff00"/><rect x="899" y="628" width="5" height="48" fill="#00ff00"/><rect x="907" y="628" width="5" height="46" fill="#00ff00"/><rect x="915" y="628" width="5" height="43" fill="#00ff00"/><rect x="923" y="628" width="5" height="41" fill="#00ff00"/><rect x="931" y="628" width="5" height="38" fill="#00ff00"/><rect x="939" y="628" width="5" height="40" fill="#00ff00"/><rect x="947" y="628" width="5" height="43" fill="#00ff00"/><rect x="955" y="628" width="5" height="46" fill="#00ff00"/><rect x="963" y="628" width="5" height="52" fill="#00ff00"/><rect x="971" y="628" width="5" height="58" fill="#00ff00"/><rect x="979" y="628" width="5" height="66" fill="#00ff00"/><rect x="987" y="628" width="5" height="68" fill="#00ff00"/><rect x="995" y="628" width="5" height="72" fill="#00ff00"/><rect x="1003" y="628" width="5" height="75" fill="#00ff00"/><rect x="1011" y="628" width="5" height="67" fill="#00ff00"/><rect x="1019" y="628" width="5" height="63" fill="#00ff00"/><rect x="1027" y="628" width="5" height="56" fill="#00ff00"/><rect x="1035" y="628" width="5" height="44" fill="#00ff00"/><rect x="1043" y="628" width="5" height="33" fill="#00ff00"/><rect x="1051" y="628" width="5" height="23" fill="#00ff00"/><rect x="1059" y="628" width="5" height="11" fill="#00ff00"/><rect x="1067" y="628" width="5" height="3" fill="#00ff00"/><rect x="1075" y="628" width="5" height="1" fill="#00ff00"/><rect x="1083" y="628" width="5" height="1" fill="#00ff00"/><rect x="1091" y="626" width="5" height="3" fill="#00ff00"/><rect x="1099" y="625" width="5" height="4" fill="#00ff00"/><rect x="1107" y="615" width="5" height="14" fill="#00ff00"/><rect x="1115" y="604" width="5" height="25" fill="#00ff00"/><rect x="1123" y="594" width="5" height="35" fill="#00ff00"/><rect x="1131" y="586" width="5" height="43" fill="#00ff00"/><rect x="1139" y="581" width="5" height="48" fill="#00ff00"/><rect x="1147" y="576" width="5" height="53" fill="#00ff00"/><rect x="1155" y="575" width="5" height="54" fill="#00ff00"/><rect x="1163" y="573" width="5" height="56" fill="#00ff00"/><rect x="1171" y="576" width="5" height="53" fill="#00ff00"/><rect x="1179" y="578" width="5" height="51" fill="#00ff00"/><rect x="1187" y="582" width="5" height="47" fill="#00ff00"/><rect x="1195" y="584" width="5" height="45" fill="#00ff00"/><rect x="1203" y="585" width="5" height="44" fill="#00ff00"/><rect x="1211" y="591" width="5" height="38" fill="#00ff00"/><rect x="1219" y="597" width="5" height="32" fill="#00ff00"/><rect x="1227" y="602" width="5" height="27" fill="#00ff00"/>
</g>
<clipPath id="cp"><rect x="5" y="566" width="1537" height="143"/></clipPath>
<polyline clip-path="url(#cp)" points="-2.5,644.5 5.5,641.9 13.5,639.3 21.5,637.2 29.5,634.9 37.5,632.7 45.5,630.5 53.5,627.4 61.5,624.3 69.5,620.5 77.5,616.7 85.5,614.8 93.5,613.0 101.5,611.5 109.5,611.5 117.5,611.5 125.5,613.0 133.5,615.5 141.5,619.2 149.5,623.0 157.5,628.0 165.5,632.4 173.5,638.7 181.5,644.4 189.5,649.7 197.5,655.0 205.5,661.3 213.5,665.7 221.5,669.5 229.5,672.3 237.5,674.3 245.5,676.0 253.5,677.0 261.5,678.0 269.5,678.0 277.5,678.3 285.5,679.6 293.5,680.4 301.5,681.4 309.5,682.7 317.5,683.3 325.5,683.6 333.5,684.2 341.5,683.3 349.5,683.1 357.5,681.2 365.5,680.2 373.5,679.2 381.5,677.1 389.5,675.1 397.5,671.8 405.5,669.3 413.5,667.2 421.5,665.5 429.5,664.1 437.5,662.2 445.5,660.1 453.5,658.5 461.5,657.6 469.5,657.3 477.5,656.3 485.5,656.3 493.5,656.3 501.5,657.3 509.5,658.5 517.5,660.1 525.5,662.0 533.5,665.1 541.5,668.3 549.5,671.4 557.5,674.3 565.5,677.0 573.5,680.0 581.5,682.0 589.5,683.4 597.5,683.1 605.5,680.9 613.5,679.1 621.5,677.1 629.5,673.7 637.5,668.7 645.5,661.2 653.5,654.9 661.5,648.6 669.5,642.3 677.5,636.9 685.5,631.9 693.5,627.2 701.5,623.1 709.5,619.1 717.5,616.9 725.5,615.3 733.5,614.4 741.5,614.4 749.5,615.6 757.5,618.3 765.5,620.7 773.5,623.6 781.5,627.6 789.5,632.0 797.5,635.8 805.5,638.3 813.5,642.4 821.5,645.2 829.5,647.7 837.5,652.1 845.5,657.7 853.5,661.5 861.5,665.3 869.5,670.9 877.5,674.7 885.5,677.8 893.5,679.5 901.5,680.4 909.5,680.4 917.5,679.3 925.5,677.2 933.5,675.3 941.5,673.4 949.5,671.5 957.5,671.5 965.5,671.4 973.5,672.9 981.5,675.5 989.5,677.7 997.5,682.1 1005.5,685.8 1013.5,688.4 1021.5,690.2 1029.5,691.1 1037.5,689.9 1045.5,687.1 1053.5,683.3 1061.5,676.4 1069.5,668.3 1077.5,660.5 1085.5,652.6 1093.5,646.1 1101.5,640.2 1109.5,633.1 1117.5,626.4 1125.5,620.7 1133.5,614.4 1141.5,609.3 1149.5,603.4 1157.5,597.4 1165.5,592.0 1173.5,586.7 1181.5,582.1 1189.5,580.1 1197.5,579.2 1205.5,579.2 1213.5,580.2 1221.5,582.3 1229.5,585.2" fill="none" stroke="#ff0000" stroke-width="3" stroke-linejoin="round" stroke-linecap="butt" shape-rendering="crispEdges"/>
<g shape-rendering="crispEdges">
<rect x="5" y="298" width="1537" height="4" fill="#0000cd"/>
<rect x="4" y="4" width="1539" height="1" fill="#000"/>
<rect x="4" y="4" width="1" height="706" fill="#000"/>
<rect x="1542" y="4" width="1" height="706" fill="#000"/>
<rect x="4" y="563" width="1539" height="1" fill="#000"/>
<rect x="4" y="564" width="1539" height="1" fill="#fff"/>
<rect x="4" y="565" width="1539" height="1" fill="#000"/>
<rect x="4" y="709" width="1539" height="1" fill="#000"/>
<rect x="1543" y="54" width="2" height="1" fill="#000"/><rect x="1543" y="103" width="2" height="1" fill="#000"/><rect x="1543" y="152" width="2" height="1" fill="#000"/><rect x="1543" y="201" width="2" height="1" fill="#000"/><rect x="1543" y="250" width="2" height="1" fill="#000"/><rect x="1543" y="348" width="2" height="1" fill="#000"/><rect x="1543" y="397" width="2" height="1" fill="#000"/><rect x="1543" y="446" width="2" height="1" fill="#000"/><rect x="1543" y="495" width="2" height="1" fill="#000"/><rect x="1543" y="544" width="2" height="1" fill="#000"/><rect x="1543" y="567" width="1" height="1" fill="#000"/><rect x="1543" y="628" width="1" height="1" fill="#000"/><rect x="1543" y="708" width="1" height="1" fill="#000"/><rect x="5" y="710" width="1" height="3" fill="#000"/><rect x="101" y="710" width="1" height="3" fill="#000"/><rect x="197" y="710" width="1" height="3" fill="#000"/><rect x="293" y="710" width="1" height="3" fill="#000"/><rect x="389" y="710" width="1" height="3" fill="#000"/><rect x="485" y="710" width="1" height="3" fill="#000"/><rect x="581" y="710" width="1" height="3" fill="#000"/><rect x="677" y="710" width="1" height="3" fill="#000"/><rect x="773" y="710" width="1" height="3" fill="#000"/><rect x="869" y="710" width="1" height="3" fill="#000"/><rect x="965" y="710" width="1" height="3" fill="#000"/><rect x="1061" y="710" width="1" height="3" fill="#000"/><rect x="1157" y="710" width="1" height="3" fill="#000"/>
<rect x="1544" y="294" width="48" height="14" fill="#0000cd"/>
<rect x="1544" y="366" width="48" height="13" fill="#000"/>
<rect x="8" y="12" width="9" height="1" fill="#000"/><rect x="9" y="13" width="7" height="1" fill="#000"/><rect x="10" y="14" width="5" height="1" fill="#000"/><rect x="11" y="15" width="3" height="1" fill="#000"/><rect x="12" y="16" width="1" height="1" fill="#000"/>
</g>
<line x1="1220.7" y1="307.5" x2="1291" y2="466" stroke="#ff0000" stroke-width="6" stroke-linecap="round"/>
<path d="M1300.6 487.5L1275.5 460.8L1297.2 450.5z" fill="#ff0000"/>
<text x="1548.8" y="59" textLength="39" lengthAdjust="spacingAndGlyphs">4106.0</text>
<text x="1548.8" y="108" textLength="39" lengthAdjust="spacingAndGlyphs">4045.0</text>
<text x="1548.8" y="157" textLength="39" lengthAdjust="spacingAndGlyphs">3984.0</text>
<text x="1548.8" y="206" textLength="39" lengthAdjust="spacingAndGlyphs">3923.0</text>
<text x="1548.8" y="255" textLength="39" lengthAdjust="spacingAndGlyphs">3863.0</text>
<text x="1548.8" y="353" textLength="39" lengthAdjust="spacingAndGlyphs">3741.0</text>
<text x="1548.8" y="402" textLength="39" lengthAdjust="spacingAndGlyphs">3680.0</text>
<text x="1548.8" y="451" textLength="39" lengthAdjust="spacingAndGlyphs">3619.0</text>
<text x="1548.8" y="500" textLength="39" lengthAdjust="spacingAndGlyphs">3559.0</text>
<text x="1548.8" y="549" textLength="39" lengthAdjust="spacingAndGlyphs">3498.0</text>
<text x="1548.8" y="305.5" textLength="39" lengthAdjust="spacingAndGlyphs" style="fill:#fff;stroke:#fff">3800.7</text>
<text x="1548.8" y="377" textLength="39" lengthAdjust="spacingAndGlyphs" style="fill:#fff;stroke:#fff">3711.3</text>
<text x="1545.7" y="579" textLength="32" lengthAdjust="spacingAndGlyphs">44.43</text>
<text x="1546" y="633" textLength="25" lengthAdjust="spacingAndGlyphs">0.00</text>
<text x="1546" y="705.5" textLength="36" lengthAdjust="spacingAndGlyphs">-58.95</text>
<text x="23.3" y="19" textLength="34" lengthAdjust="spacingAndGlyphs">CHINA</text>
<text x="57.3" y="19" textLength="44" lengthAdjust="spacingAndGlyphs">300-,H1</text>
<text x="109.5" y="19" textLength="39" lengthAdjust="spacingAndGlyphs">3712.6</text>
<text x="152.5" y="19" textLength="39" lengthAdjust="spacingAndGlyphs">3726.4</text>
<text x="195.5" y="19" textLength="39" lengthAdjust="spacingAndGlyphs">3711.3</text>
<text x="238.5" y="19" textLength="39" lengthAdjust="spacingAndGlyphs">3711.3</text>
<text x="9.5" y="581" textLength="31" lengthAdjust="spacingAndGlyphs">MACD</text>
<text x="40.5" y="581" textLength="53" lengthAdjust="spacingAndGlyphs">(12,26,9)</text>
<text x="98.5" y="581" textLength="32" lengthAdjust="spacingAndGlyphs">18.60</text>
<text x="133.5" y="581" textLength="32" lengthAdjust="spacingAndGlyphs">30.88</text>
<text x="4" y="725">8 Sep 2022</text>
<text x="100" y="725">14 Sep 05:00</text>
<text x="196" y="725">19 Sep 05:00</text>
<text x="292" y="725">22 Sep 05:00</text>
<text x="388" y="725">27 Sep 05:00</text>
<text x="484" y="725">30 Sep 05:00</text>
<text x="580" y="725">12 Oct 05:00</text>
<text x="676" y="725">17 Oct 05:00</text>
<text x="772" y="725">20 Oct 05:00</text>
<text x="868" y="725">25 Oct 05:00</text>
<text x="964" y="725">28 Oct 05:00</text>
<text x="1060" y="725">2 Nov 05:00</text>
<text x="1156" y="725">7 Nov 05:00</text>
</svg></body></html>
